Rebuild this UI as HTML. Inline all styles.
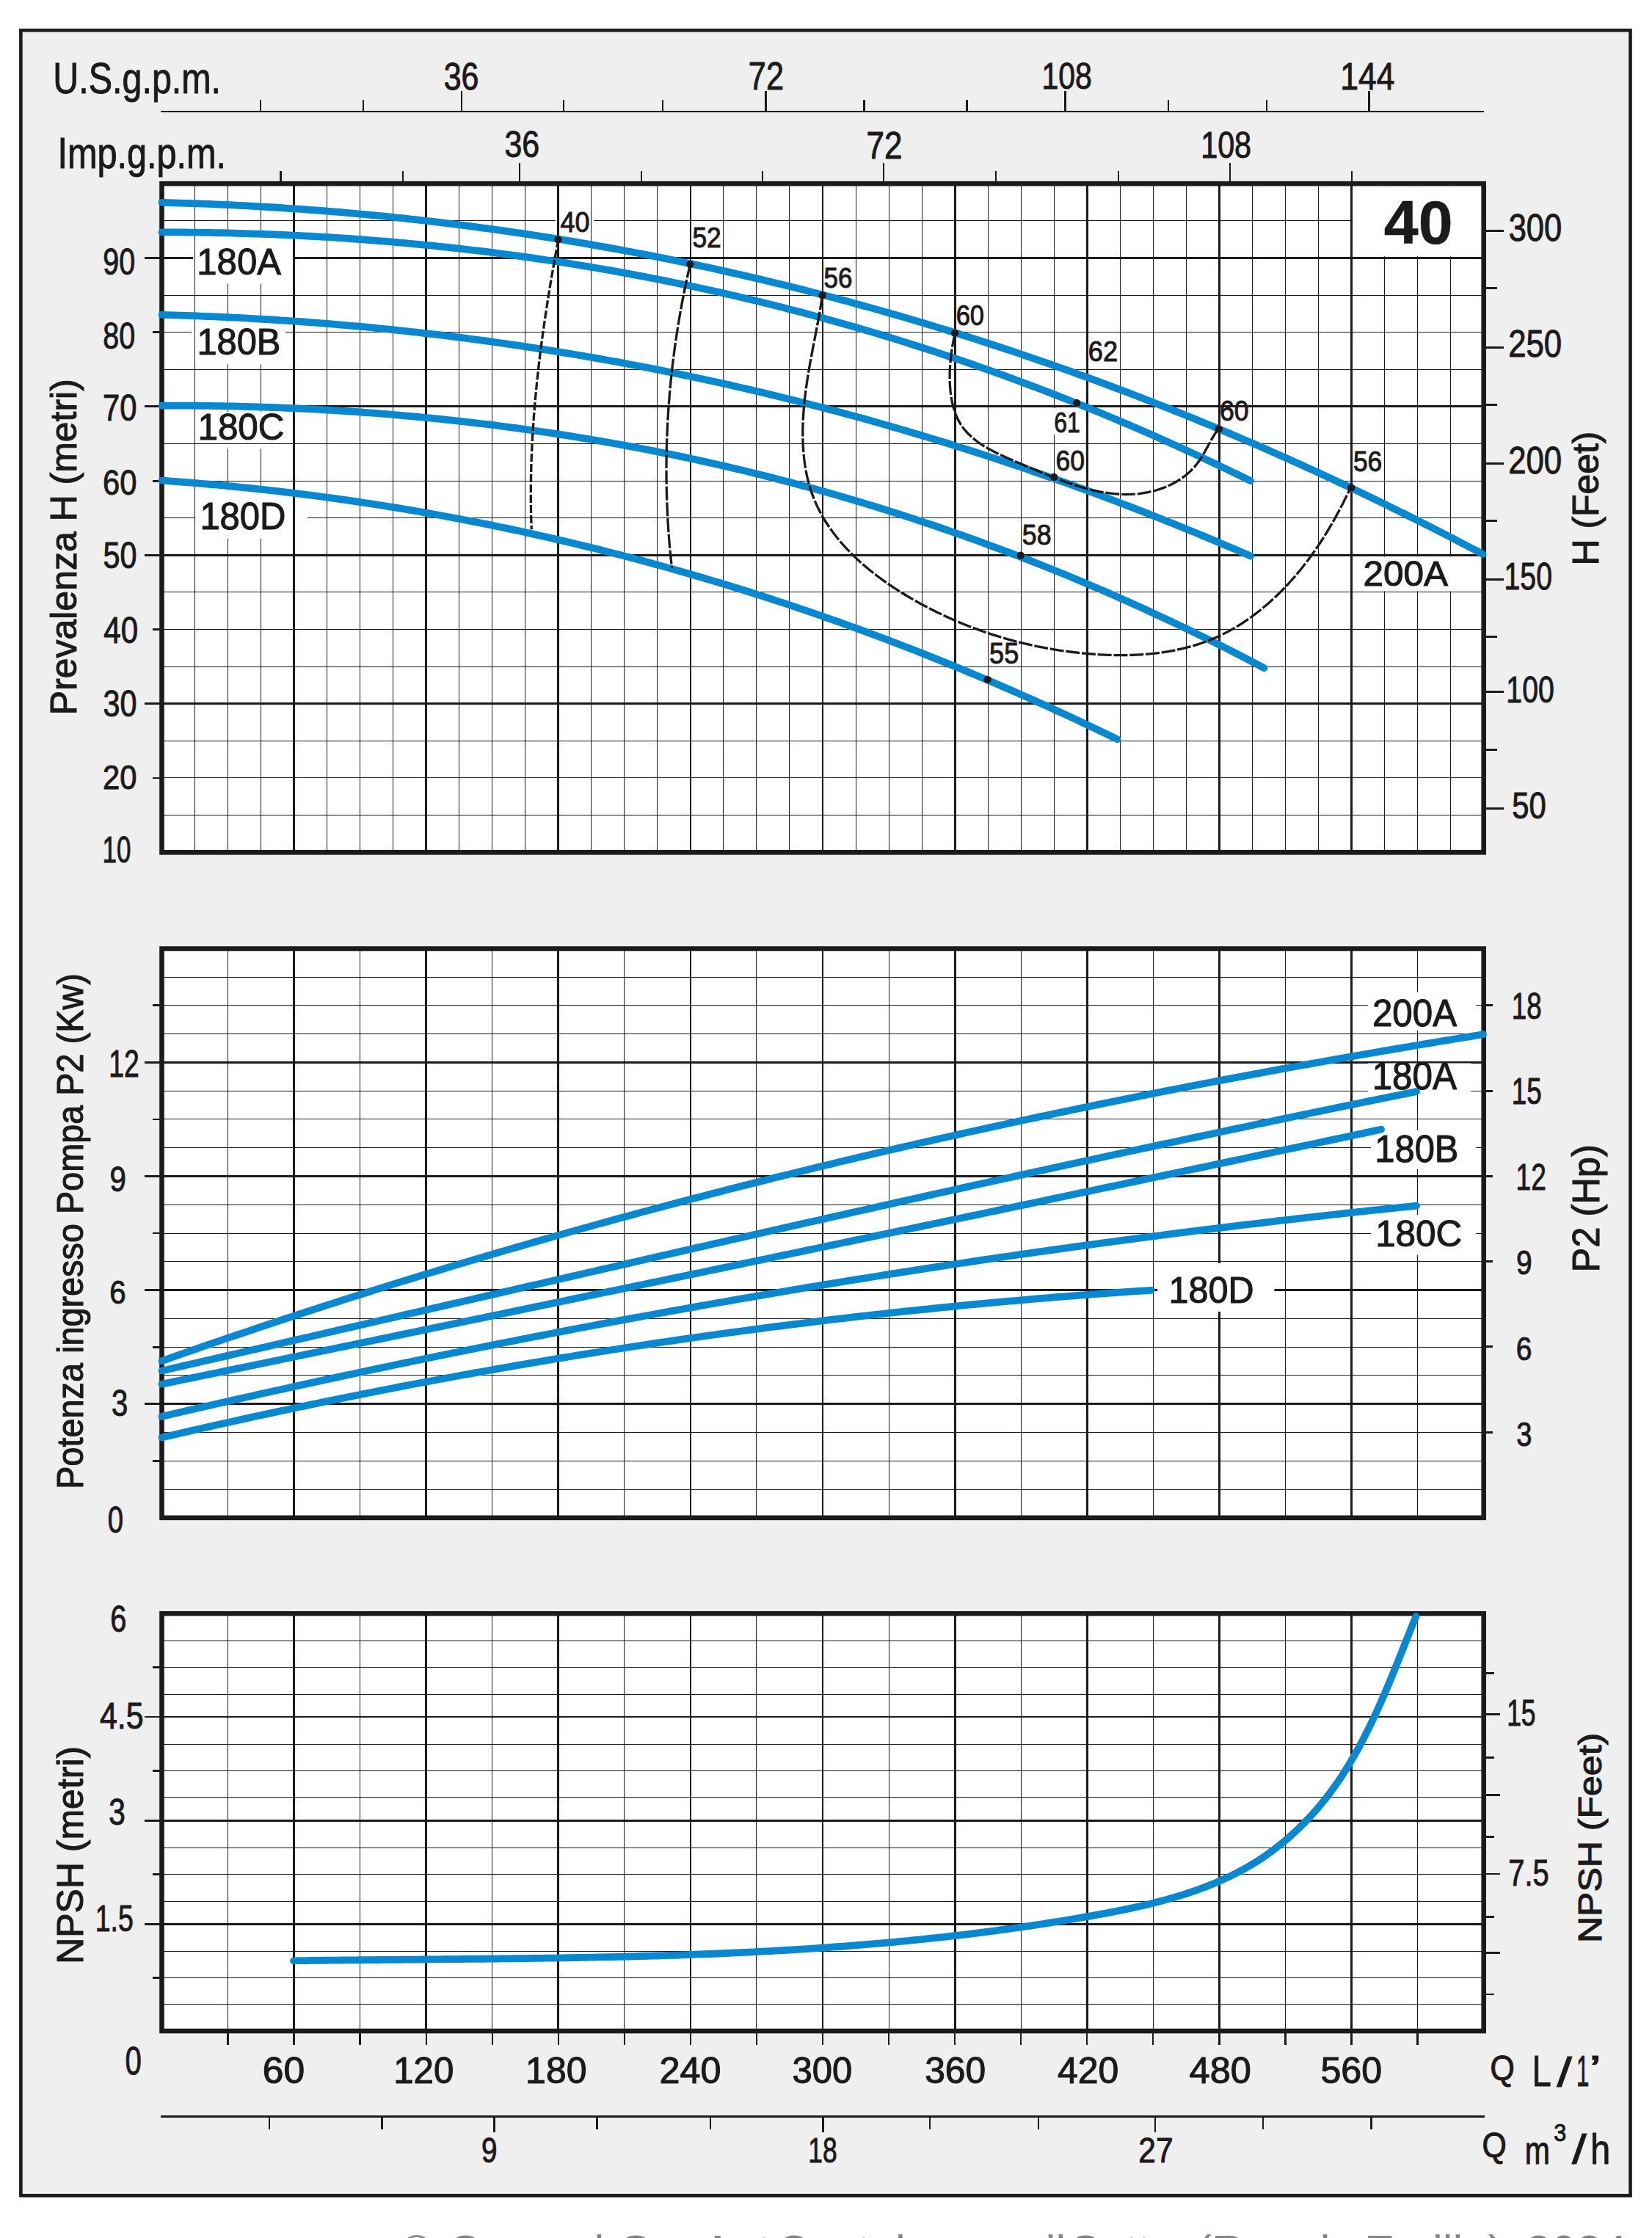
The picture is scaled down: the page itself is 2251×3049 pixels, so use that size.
<!DOCTYPE html><html><head><meta charset="utf-8"><style>html,body{margin:0;padding:0;background:#fff;width:2251px;height:3049px;}svg{display:block;}text{font-family:"Liberation Sans",sans-serif;}</style></head><body><svg width="2251" height="3049" viewBox="0 0 2251 3049" font-family="Liberation Sans, sans-serif">
<rect width="2251" height="3049" fill="#fff"/>
<rect x="28.4" y="41.3" width="2193.1" height="2949.9" fill="#efeff0" stroke="#1c1a1b" stroke-width="4.6"/>
<rect x="220.5" y="250.2" width="1801.2" height="911.1" fill="#fff"/>
<rect x="220.5" y="1292.5" width="1801.2" height="775.3" fill="#fff"/>
<rect x="220.5" y="2198.3" width="1801.2" height="568.7" fill="#fff"/>
<line x1="265.53" y1="250.2" x2="265.53" y2="1161.3" stroke="#1c1a1b" stroke-width="1.0" shape-rendering="crispEdges"/>
<line x1="310.55" y1="250.2" x2="310.55" y2="1161.3" stroke="#1c1a1b" stroke-width="1.0" shape-rendering="crispEdges"/>
<line x1="355.58" y1="250.2" x2="355.58" y2="1161.3" stroke="#1c1a1b" stroke-width="1.0" shape-rendering="crispEdges"/>
<line x1="400.6" y1="250.2" x2="400.6" y2="1161.3" stroke="#1c1a1b" stroke-width="2.8" shape-rendering="crispEdges"/>
<line x1="445.63" y1="250.2" x2="445.63" y2="1161.3" stroke="#1c1a1b" stroke-width="1.0" shape-rendering="crispEdges"/>
<line x1="490.65" y1="250.2" x2="490.65" y2="1161.3" stroke="#1c1a1b" stroke-width="1.0" shape-rendering="crispEdges"/>
<line x1="535.68" y1="250.2" x2="535.68" y2="1161.3" stroke="#1c1a1b" stroke-width="1.0" shape-rendering="crispEdges"/>
<line x1="580.7" y1="250.2" x2="580.7" y2="1161.3" stroke="#1c1a1b" stroke-width="2.8" shape-rendering="crispEdges"/>
<line x1="625.73" y1="250.2" x2="625.73" y2="1161.3" stroke="#1c1a1b" stroke-width="1.0" shape-rendering="crispEdges"/>
<line x1="670.75" y1="250.2" x2="670.75" y2="1161.3" stroke="#1c1a1b" stroke-width="1.0" shape-rendering="crispEdges"/>
<line x1="715.78" y1="250.2" x2="715.78" y2="1161.3" stroke="#1c1a1b" stroke-width="1.0" shape-rendering="crispEdges"/>
<line x1="760.81" y1="250.2" x2="760.81" y2="1161.3" stroke="#1c1a1b" stroke-width="2.8" shape-rendering="crispEdges"/>
<line x1="805.83" y1="250.2" x2="805.83" y2="1161.3" stroke="#1c1a1b" stroke-width="1.0" shape-rendering="crispEdges"/>
<line x1="850.86" y1="250.2" x2="850.86" y2="1161.3" stroke="#1c1a1b" stroke-width="1.0" shape-rendering="crispEdges"/>
<line x1="895.88" y1="250.2" x2="895.88" y2="1161.3" stroke="#1c1a1b" stroke-width="1.0" shape-rendering="crispEdges"/>
<line x1="940.91" y1="250.2" x2="940.91" y2="1161.3" stroke="#1c1a1b" stroke-width="2.8" shape-rendering="crispEdges"/>
<line x1="985.93" y1="250.2" x2="985.93" y2="1161.3" stroke="#1c1a1b" stroke-width="1.0" shape-rendering="crispEdges"/>
<line x1="1030.96" y1="250.2" x2="1030.96" y2="1161.3" stroke="#1c1a1b" stroke-width="1.0" shape-rendering="crispEdges"/>
<line x1="1075.98" y1="250.2" x2="1075.98" y2="1161.3" stroke="#1c1a1b" stroke-width="1.0" shape-rendering="crispEdges"/>
<line x1="1121.01" y1="250.2" x2="1121.01" y2="1161.3" stroke="#1c1a1b" stroke-width="2.8" shape-rendering="crispEdges"/>
<line x1="1166.04" y1="250.2" x2="1166.04" y2="1161.3" stroke="#1c1a1b" stroke-width="1.0" shape-rendering="crispEdges"/>
<line x1="1211.06" y1="250.2" x2="1211.06" y2="1161.3" stroke="#1c1a1b" stroke-width="1.0" shape-rendering="crispEdges"/>
<line x1="1256.09" y1="250.2" x2="1256.09" y2="1161.3" stroke="#1c1a1b" stroke-width="1.0" shape-rendering="crispEdges"/>
<line x1="1301.11" y1="250.2" x2="1301.11" y2="1161.3" stroke="#1c1a1b" stroke-width="2.8" shape-rendering="crispEdges"/>
<line x1="1346.14" y1="250.2" x2="1346.14" y2="1161.3" stroke="#1c1a1b" stroke-width="1.0" shape-rendering="crispEdges"/>
<line x1="1391.16" y1="250.2" x2="1391.16" y2="1161.3" stroke="#1c1a1b" stroke-width="1.0" shape-rendering="crispEdges"/>
<line x1="1436.19" y1="250.2" x2="1436.19" y2="1161.3" stroke="#1c1a1b" stroke-width="1.0" shape-rendering="crispEdges"/>
<line x1="1481.21" y1="250.2" x2="1481.21" y2="1161.3" stroke="#1c1a1b" stroke-width="2.8" shape-rendering="crispEdges"/>
<line x1="1526.24" y1="250.2" x2="1526.24" y2="1161.3" stroke="#1c1a1b" stroke-width="1.0" shape-rendering="crispEdges"/>
<line x1="1571.27" y1="250.2" x2="1571.27" y2="1161.3" stroke="#1c1a1b" stroke-width="1.0" shape-rendering="crispEdges"/>
<line x1="1616.29" y1="250.2" x2="1616.29" y2="1161.3" stroke="#1c1a1b" stroke-width="1.0" shape-rendering="crispEdges"/>
<line x1="1661.32" y1="250.2" x2="1661.32" y2="1161.3" stroke="#1c1a1b" stroke-width="2.8" shape-rendering="crispEdges"/>
<line x1="1706.34" y1="250.2" x2="1706.34" y2="1161.3" stroke="#1c1a1b" stroke-width="1.0" shape-rendering="crispEdges"/>
<line x1="1751.37" y1="250.2" x2="1751.37" y2="1161.3" stroke="#1c1a1b" stroke-width="1.0" shape-rendering="crispEdges"/>
<line x1="1796.39" y1="250.2" x2="1796.39" y2="1161.3" stroke="#1c1a1b" stroke-width="1.0" shape-rendering="crispEdges"/>
<line x1="1841.42" y1="250.2" x2="1841.42" y2="1161.3" stroke="#1c1a1b" stroke-width="2.8" shape-rendering="crispEdges"/>
<line x1="1886.44" y1="250.2" x2="1886.44" y2="1161.3" stroke="#1c1a1b" stroke-width="1.0" shape-rendering="crispEdges"/>
<line x1="1931.47" y1="250.2" x2="1931.47" y2="1161.3" stroke="#1c1a1b" stroke-width="1.0" shape-rendering="crispEdges"/>
<line x1="1976.49" y1="250.2" x2="1976.49" y2="1161.3" stroke="#1c1a1b" stroke-width="1.0" shape-rendering="crispEdges"/>
<line x1="220.5" y1="1110.59" x2="2021.7" y2="1110.59" stroke="#1c1a1b" stroke-width="1.0" shape-rendering="crispEdges"/>
<line x1="220.5" y1="1059.98" x2="2021.7" y2="1059.98" stroke="#1c1a1b" stroke-width="1.0" shape-rendering="crispEdges"/>
<line x1="220.5" y1="1009.37" x2="2021.7" y2="1009.37" stroke="#1c1a1b" stroke-width="1.0" shape-rendering="crispEdges"/>
<line x1="220.5" y1="958.76" x2="2021.7" y2="958.76" stroke="#1c1a1b" stroke-width="2.8" shape-rendering="crispEdges"/>
<line x1="220.5" y1="908.15" x2="2021.7" y2="908.15" stroke="#1c1a1b" stroke-width="1.0" shape-rendering="crispEdges"/>
<line x1="220.5" y1="857.54" x2="2021.7" y2="857.54" stroke="#1c1a1b" stroke-width="1.0" shape-rendering="crispEdges"/>
<line x1="220.5" y1="806.93" x2="2021.7" y2="806.93" stroke="#1c1a1b" stroke-width="1.0" shape-rendering="crispEdges"/>
<line x1="220.5" y1="756.32" x2="2021.7" y2="756.32" stroke="#1c1a1b" stroke-width="2.8" shape-rendering="crispEdges"/>
<line x1="220.5" y1="705.71" x2="2021.7" y2="705.71" stroke="#1c1a1b" stroke-width="1.0" shape-rendering="crispEdges"/>
<line x1="220.5" y1="655.1" x2="2021.7" y2="655.1" stroke="#1c1a1b" stroke-width="1.0" shape-rendering="crispEdges"/>
<line x1="220.5" y1="604.49" x2="2021.7" y2="604.49" stroke="#1c1a1b" stroke-width="1.0" shape-rendering="crispEdges"/>
<line x1="220.5" y1="553.88" x2="2021.7" y2="553.88" stroke="#1c1a1b" stroke-width="2.8" shape-rendering="crispEdges"/>
<line x1="220.5" y1="503.27" x2="2021.7" y2="503.27" stroke="#1c1a1b" stroke-width="1.0" shape-rendering="crispEdges"/>
<line x1="220.5" y1="452.66" x2="2021.7" y2="452.66" stroke="#1c1a1b" stroke-width="1.0" shape-rendering="crispEdges"/>
<line x1="220.5" y1="402.05" x2="2021.7" y2="402.05" stroke="#1c1a1b" stroke-width="1.0" shape-rendering="crispEdges"/>
<line x1="220.5" y1="351.44" x2="2021.7" y2="351.44" stroke="#1c1a1b" stroke-width="2.8" shape-rendering="crispEdges"/>
<line x1="220.5" y1="300.83" x2="2021.7" y2="300.83" stroke="#1c1a1b" stroke-width="1.0" shape-rendering="crispEdges"/>
<line x1="310.55" y1="1292.5" x2="310.55" y2="2067.8" stroke="#1c1a1b" stroke-width="1.0" shape-rendering="crispEdges"/>
<line x1="400.6" y1="1292.5" x2="400.6" y2="2067.8" stroke="#1c1a1b" stroke-width="2.8" shape-rendering="crispEdges"/>
<line x1="490.65" y1="1292.5" x2="490.65" y2="2067.8" stroke="#1c1a1b" stroke-width="1.0" shape-rendering="crispEdges"/>
<line x1="580.7" y1="1292.5" x2="580.7" y2="2067.8" stroke="#1c1a1b" stroke-width="2.8" shape-rendering="crispEdges"/>
<line x1="670.75" y1="1292.5" x2="670.75" y2="2067.8" stroke="#1c1a1b" stroke-width="1.0" shape-rendering="crispEdges"/>
<line x1="760.81" y1="1292.5" x2="760.81" y2="2067.8" stroke="#1c1a1b" stroke-width="2.8" shape-rendering="crispEdges"/>
<line x1="850.86" y1="1292.5" x2="850.86" y2="2067.8" stroke="#1c1a1b" stroke-width="1.0" shape-rendering="crispEdges"/>
<line x1="940.91" y1="1292.5" x2="940.91" y2="2067.8" stroke="#1c1a1b" stroke-width="2.8" shape-rendering="crispEdges"/>
<line x1="1030.96" y1="1292.5" x2="1030.96" y2="2067.8" stroke="#1c1a1b" stroke-width="1.0" shape-rendering="crispEdges"/>
<line x1="1121.01" y1="1292.5" x2="1121.01" y2="2067.8" stroke="#1c1a1b" stroke-width="2.8" shape-rendering="crispEdges"/>
<line x1="1211.06" y1="1292.5" x2="1211.06" y2="2067.8" stroke="#1c1a1b" stroke-width="1.0" shape-rendering="crispEdges"/>
<line x1="1301.11" y1="1292.5" x2="1301.11" y2="2067.8" stroke="#1c1a1b" stroke-width="2.8" shape-rendering="crispEdges"/>
<line x1="1391.16" y1="1292.5" x2="1391.16" y2="2067.8" stroke="#1c1a1b" stroke-width="1.0" shape-rendering="crispEdges"/>
<line x1="1481.21" y1="1292.5" x2="1481.21" y2="2067.8" stroke="#1c1a1b" stroke-width="2.8" shape-rendering="crispEdges"/>
<line x1="1571.27" y1="1292.5" x2="1571.27" y2="2067.8" stroke="#1c1a1b" stroke-width="1.0" shape-rendering="crispEdges"/>
<line x1="1661.32" y1="1292.5" x2="1661.32" y2="2067.8" stroke="#1c1a1b" stroke-width="2.8" shape-rendering="crispEdges"/>
<line x1="1751.37" y1="1292.5" x2="1751.37" y2="2067.8" stroke="#1c1a1b" stroke-width="1.0" shape-rendering="crispEdges"/>
<line x1="1841.42" y1="1292.5" x2="1841.42" y2="2067.8" stroke="#1c1a1b" stroke-width="2.8" shape-rendering="crispEdges"/>
<line x1="1931.47" y1="1292.5" x2="1931.47" y2="2067.8" stroke="#1c1a1b" stroke-width="1.0" shape-rendering="crispEdges"/>
<line x1="220.5" y1="2029.03" x2="2021.7" y2="2029.03" stroke="#1c1a1b" stroke-width="1.0" shape-rendering="crispEdges"/>
<line x1="220.5" y1="1990.25" x2="2021.7" y2="1990.25" stroke="#1c1a1b" stroke-width="1.0" shape-rendering="crispEdges"/>
<line x1="220.5" y1="1951.48" x2="2021.7" y2="1951.48" stroke="#1c1a1b" stroke-width="1.0" shape-rendering="crispEdges"/>
<line x1="220.5" y1="1912.7" x2="2021.7" y2="1912.7" stroke="#1c1a1b" stroke-width="2.8" shape-rendering="crispEdges"/>
<line x1="220.5" y1="1873.93" x2="2021.7" y2="1873.93" stroke="#1c1a1b" stroke-width="1.0" shape-rendering="crispEdges"/>
<line x1="220.5" y1="1835.15" x2="2021.7" y2="1835.15" stroke="#1c1a1b" stroke-width="1.0" shape-rendering="crispEdges"/>
<line x1="220.5" y1="1796.38" x2="2021.7" y2="1796.38" stroke="#1c1a1b" stroke-width="1.0" shape-rendering="crispEdges"/>
<line x1="220.5" y1="1757.6" x2="2021.7" y2="1757.6" stroke="#1c1a1b" stroke-width="2.8" shape-rendering="crispEdges"/>
<line x1="220.5" y1="1718.83" x2="2021.7" y2="1718.83" stroke="#1c1a1b" stroke-width="1.0" shape-rendering="crispEdges"/>
<line x1="220.5" y1="1680.05" x2="2021.7" y2="1680.05" stroke="#1c1a1b" stroke-width="1.0" shape-rendering="crispEdges"/>
<line x1="220.5" y1="1641.28" x2="2021.7" y2="1641.28" stroke="#1c1a1b" stroke-width="1.0" shape-rendering="crispEdges"/>
<line x1="220.5" y1="1602.5" x2="2021.7" y2="1602.5" stroke="#1c1a1b" stroke-width="2.8" shape-rendering="crispEdges"/>
<line x1="220.5" y1="1563.73" x2="2021.7" y2="1563.73" stroke="#1c1a1b" stroke-width="1.0" shape-rendering="crispEdges"/>
<line x1="220.5" y1="1524.95" x2="2021.7" y2="1524.95" stroke="#1c1a1b" stroke-width="1.0" shape-rendering="crispEdges"/>
<line x1="220.5" y1="1486.18" x2="2021.7" y2="1486.18" stroke="#1c1a1b" stroke-width="1.0" shape-rendering="crispEdges"/>
<line x1="220.5" y1="1447.4" x2="2021.7" y2="1447.4" stroke="#1c1a1b" stroke-width="2.8" shape-rendering="crispEdges"/>
<line x1="220.5" y1="1408.62" x2="2021.7" y2="1408.62" stroke="#1c1a1b" stroke-width="1.0" shape-rendering="crispEdges"/>
<line x1="220.5" y1="1369.85" x2="2021.7" y2="1369.85" stroke="#1c1a1b" stroke-width="1.0" shape-rendering="crispEdges"/>
<line x1="220.5" y1="1331.08" x2="2021.7" y2="1331.08" stroke="#1c1a1b" stroke-width="1.0" shape-rendering="crispEdges"/>
<line x1="310.55" y1="2198.3" x2="310.55" y2="2767" stroke="#1c1a1b" stroke-width="1.0" shape-rendering="crispEdges"/>
<line x1="400.6" y1="2198.3" x2="400.6" y2="2767" stroke="#1c1a1b" stroke-width="2.8" shape-rendering="crispEdges"/>
<line x1="490.65" y1="2198.3" x2="490.65" y2="2767" stroke="#1c1a1b" stroke-width="1.0" shape-rendering="crispEdges"/>
<line x1="580.7" y1="2198.3" x2="580.7" y2="2767" stroke="#1c1a1b" stroke-width="2.8" shape-rendering="crispEdges"/>
<line x1="670.75" y1="2198.3" x2="670.75" y2="2767" stroke="#1c1a1b" stroke-width="1.0" shape-rendering="crispEdges"/>
<line x1="760.81" y1="2198.3" x2="760.81" y2="2767" stroke="#1c1a1b" stroke-width="2.8" shape-rendering="crispEdges"/>
<line x1="850.86" y1="2198.3" x2="850.86" y2="2767" stroke="#1c1a1b" stroke-width="1.0" shape-rendering="crispEdges"/>
<line x1="940.91" y1="2198.3" x2="940.91" y2="2767" stroke="#1c1a1b" stroke-width="2.8" shape-rendering="crispEdges"/>
<line x1="1030.96" y1="2198.3" x2="1030.96" y2="2767" stroke="#1c1a1b" stroke-width="1.0" shape-rendering="crispEdges"/>
<line x1="1121.01" y1="2198.3" x2="1121.01" y2="2767" stroke="#1c1a1b" stroke-width="2.8" shape-rendering="crispEdges"/>
<line x1="1211.06" y1="2198.3" x2="1211.06" y2="2767" stroke="#1c1a1b" stroke-width="1.0" shape-rendering="crispEdges"/>
<line x1="1301.11" y1="2198.3" x2="1301.11" y2="2767" stroke="#1c1a1b" stroke-width="2.8" shape-rendering="crispEdges"/>
<line x1="1391.16" y1="2198.3" x2="1391.16" y2="2767" stroke="#1c1a1b" stroke-width="1.0" shape-rendering="crispEdges"/>
<line x1="1481.21" y1="2198.3" x2="1481.21" y2="2767" stroke="#1c1a1b" stroke-width="2.8" shape-rendering="crispEdges"/>
<line x1="1571.27" y1="2198.3" x2="1571.27" y2="2767" stroke="#1c1a1b" stroke-width="1.0" shape-rendering="crispEdges"/>
<line x1="1661.32" y1="2198.3" x2="1661.32" y2="2767" stroke="#1c1a1b" stroke-width="2.8" shape-rendering="crispEdges"/>
<line x1="1751.37" y1="2198.3" x2="1751.37" y2="2767" stroke="#1c1a1b" stroke-width="1.0" shape-rendering="crispEdges"/>
<line x1="1841.42" y1="2198.3" x2="1841.42" y2="2767" stroke="#1c1a1b" stroke-width="2.8" shape-rendering="crispEdges"/>
<line x1="1931.47" y1="2198.3" x2="1931.47" y2="2767" stroke="#1c1a1b" stroke-width="1.0" shape-rendering="crispEdges"/>
<line x1="220.5" y1="2235.4" x2="2021.7" y2="2235.4" stroke="#1c1a1b" stroke-width="1.0" shape-rendering="crispEdges"/>
<line x1="220.5" y1="2271.2" x2="2021.7" y2="2271.2" stroke="#1c1a1b" stroke-width="1.0" shape-rendering="crispEdges"/>
<line x1="220.5" y1="2308.6" x2="2021.7" y2="2308.6" stroke="#1c1a1b" stroke-width="1.0" shape-rendering="crispEdges"/>
<line x1="220.5" y1="2376.7" x2="2021.7" y2="2376.7" stroke="#1c1a1b" stroke-width="1.0" shape-rendering="crispEdges"/>
<line x1="220.5" y1="2412.6" x2="2021.7" y2="2412.6" stroke="#1c1a1b" stroke-width="1.0" shape-rendering="crispEdges"/>
<line x1="220.5" y1="2448.9" x2="2021.7" y2="2448.9" stroke="#1c1a1b" stroke-width="1.0" shape-rendering="crispEdges"/>
<line x1="220.5" y1="2517.5" x2="2021.7" y2="2517.5" stroke="#1c1a1b" stroke-width="1.0" shape-rendering="crispEdges"/>
<line x1="220.5" y1="2553.2" x2="2021.7" y2="2553.2" stroke="#1c1a1b" stroke-width="1.0" shape-rendering="crispEdges"/>
<line x1="220.5" y1="2590.6" x2="2021.7" y2="2590.6" stroke="#1c1a1b" stroke-width="1.0" shape-rendering="crispEdges"/>
<line x1="220.5" y1="2658.6" x2="2021.7" y2="2658.6" stroke="#1c1a1b" stroke-width="1.0" shape-rendering="crispEdges"/>
<line x1="220.5" y1="2694.2" x2="2021.7" y2="2694.2" stroke="#1c1a1b" stroke-width="1.0" shape-rendering="crispEdges"/>
<line x1="220.5" y1="2730.8" x2="2021.7" y2="2730.8" stroke="#1c1a1b" stroke-width="1.0" shape-rendering="crispEdges"/>
<line x1="220.5" y1="2338.9" x2="2021.7" y2="2338.9" stroke="#1c1a1b" stroke-width="2.8" shape-rendering="crispEdges"/>
<line x1="220.5" y1="2480.2" x2="2021.7" y2="2480.2" stroke="#1c1a1b" stroke-width="2.8" shape-rendering="crispEdges"/>
<line x1="220.5" y1="2621.3" x2="2021.7" y2="2621.3" stroke="#1c1a1b" stroke-width="2.8" shape-rendering="crispEdges"/>
<rect x="263" y="322" width="137" height="64.5" fill="#fff"/>
<rect x="261" y="438" width="128" height="58.3" fill="#fff"/>
<rect x="266" y="561" width="133" height="50.4" fill="#fff"/>
<rect x="266" y="668" width="152.7" height="65.7" fill="#fff"/>
<rect x="1843.2" y="758.5" width="175.4" height="46.9" fill="#fff"/>
<rect x="1843.2" y="253.2" width="175.4" height="96.2" fill="#fff"/>
<rect x="757" y="298.2" width="52" height="5" fill="#fff"/>
<rect x="1433" y="556" width="41" height="36" fill="#fff"/>
<rect x="1863.7" y="1352" width="147.7" height="52" fill="#fff"/>
<rect x="1863.7" y="1448.5" width="140.7" height="38.5" fill="#fff"/>
<rect x="1868.2" y="1540" width="143.2" height="53" fill="#fff"/>
<rect x="1868.2" y="1655" width="143.2" height="54.6" fill="#fff"/>
<rect x="1577.3" y="1721" width="159.1" height="65.9" fill="#fff"/>
<line x1="265.53" y1="250.2" x2="265.53" y2="1161.3" stroke="#1c1a1b" stroke-width="1.0" shape-rendering="crispEdges"/>
<line x1="400.6" y1="250.2" x2="400.6" y2="1161.3" stroke="#1c1a1b" stroke-width="2.8" shape-rendering="crispEdges"/>
<line x1="220.5" y1="604.49" x2="400.6" y2="604.49" stroke="#1c1a1b" stroke-width="1.0" shape-rendering="crispEdges"/>
<line x1="760.81" y1="295" x2="760.81" y2="306" stroke="#1c1a1b" stroke-width="2.8" shape-rendering="crispEdges"/>
<line x1="805.83" y1="295" x2="805.83" y2="306" stroke="#1c1a1b" stroke-width="1.0" shape-rendering="crispEdges"/>
<rect x="220.5" y="250.2" width="1801.2" height="911.1" fill="none" stroke="#1c1a1b" stroke-width="6.6"/>
<rect x="220.5" y="1292.5" width="1801.2" height="775.3" fill="none" stroke="#1c1a1b" stroke-width="6.6"/>
<rect x="220.5" y="2198.3" width="1801.2" height="568.7" fill="none" stroke="#1c1a1b" stroke-width="6.6"/>
<line x1="196.5" y1="958.76" x2="220.5" y2="958.76" stroke="#1c1a1b" stroke-width="2.8" shape-rendering="crispEdges"/>
<line x1="196.5" y1="756.32" x2="220.5" y2="756.32" stroke="#1c1a1b" stroke-width="2.8" shape-rendering="crispEdges"/>
<line x1="196.5" y1="553.88" x2="220.5" y2="553.88" stroke="#1c1a1b" stroke-width="2.8" shape-rendering="crispEdges"/>
<line x1="196.5" y1="351.44" x2="220.5" y2="351.44" stroke="#1c1a1b" stroke-width="2.8" shape-rendering="crispEdges"/>
<line x1="208" y1="1059.98" x2="220.5" y2="1059.98" stroke="#1c1a1b" stroke-width="2.8" shape-rendering="crispEdges"/>
<line x1="208" y1="857.54" x2="220.5" y2="857.54" stroke="#1c1a1b" stroke-width="2.8" shape-rendering="crispEdges"/>
<line x1="208" y1="655.1" x2="220.5" y2="655.1" stroke="#1c1a1b" stroke-width="2.8" shape-rendering="crispEdges"/>
<line x1="208" y1="452.66" x2="220.5" y2="452.66" stroke="#1c1a1b" stroke-width="2.8" shape-rendering="crispEdges"/>
<line x1="2021.7" y1="314.4" x2="2048.5" y2="314.4" stroke="#1c1a1b" stroke-width="2.8" shape-rendering="crispEdges"/>
<line x1="2021.7" y1="473.5" x2="2048.5" y2="473.5" stroke="#1c1a1b" stroke-width="2.8" shape-rendering="crispEdges"/>
<line x1="2021.7" y1="631.3" x2="2048.5" y2="631.3" stroke="#1c1a1b" stroke-width="2.8" shape-rendering="crispEdges"/>
<line x1="2021.7" y1="789.4" x2="2048.5" y2="789.4" stroke="#1c1a1b" stroke-width="2.8" shape-rendering="crispEdges"/>
<line x1="2021.7" y1="942.7" x2="2048.5" y2="942.7" stroke="#1c1a1b" stroke-width="2.8" shape-rendering="crispEdges"/>
<line x1="2021.7" y1="1101.1" x2="2048.5" y2="1101.1" stroke="#1c1a1b" stroke-width="2.8" shape-rendering="crispEdges"/>
<line x1="2021.7" y1="392.4" x2="2039.5" y2="392.4" stroke="#1c1a1b" stroke-width="2.8" shape-rendering="crispEdges"/>
<line x1="2021.7" y1="551.2" x2="2039.5" y2="551.2" stroke="#1c1a1b" stroke-width="2.8" shape-rendering="crispEdges"/>
<line x1="2021.7" y1="709.3" x2="2039.5" y2="709.3" stroke="#1c1a1b" stroke-width="2.8" shape-rendering="crispEdges"/>
<line x1="2021.7" y1="867.5" x2="2039.5" y2="867.5" stroke="#1c1a1b" stroke-width="2.8" shape-rendering="crispEdges"/>
<line x1="2021.7" y1="1021.4" x2="2039.5" y2="1021.4" stroke="#1c1a1b" stroke-width="2.8" shape-rendering="crispEdges"/>
<line x1="219" y1="151.8" x2="2022.3" y2="151.8" stroke="#1c1a1b" stroke-width="2.4" shape-rendering="crispEdges"/>
<line x1="354.7" y1="136.3" x2="354.7" y2="151.8" stroke="#1c1a1b" stroke-width="2.4" shape-rendering="crispEdges"/>
<line x1="494.7" y1="136.3" x2="494.7" y2="151.8" stroke="#1c1a1b" stroke-width="2.4" shape-rendering="crispEdges"/>
<line x1="768.2" y1="136.3" x2="768.2" y2="151.8" stroke="#1c1a1b" stroke-width="2.4" shape-rendering="crispEdges"/>
<line x1="902.8" y1="136.3" x2="902.8" y2="151.8" stroke="#1c1a1b" stroke-width="2.4" shape-rendering="crispEdges"/>
<line x1="1177.6" y1="136.3" x2="1177.6" y2="151.8" stroke="#1c1a1b" stroke-width="2.4" shape-rendering="crispEdges"/>
<line x1="1317.4" y1="136.3" x2="1317.4" y2="151.8" stroke="#1c1a1b" stroke-width="2.4" shape-rendering="crispEdges"/>
<line x1="1591.7" y1="136.3" x2="1591.7" y2="151.8" stroke="#1c1a1b" stroke-width="2.4" shape-rendering="crispEdges"/>
<line x1="1725.7" y1="136.3" x2="1725.7" y2="151.8" stroke="#1c1a1b" stroke-width="2.4" shape-rendering="crispEdges"/>
<line x1="628.7" y1="124.3" x2="628.7" y2="151.8" stroke="#1c1a1b" stroke-width="2.4" shape-rendering="crispEdges"/>
<line x1="1043.3" y1="124.3" x2="1043.3" y2="151.8" stroke="#1c1a1b" stroke-width="2.4" shape-rendering="crispEdges"/>
<line x1="1451.4" y1="124.3" x2="1451.4" y2="151.8" stroke="#1c1a1b" stroke-width="2.4" shape-rendering="crispEdges"/>
<line x1="1865.4" y1="124.3" x2="1865.4" y2="151.8" stroke="#1c1a1b" stroke-width="2.4" shape-rendering="crispEdges"/>
<line x1="382.5" y1="233.2" x2="382.5" y2="250.2" stroke="#1c1a1b" stroke-width="2.4" shape-rendering="crispEdges"/>
<line x1="548.7" y1="233.2" x2="548.7" y2="250.2" stroke="#1c1a1b" stroke-width="2.4" shape-rendering="crispEdges"/>
<line x1="873.9" y1="233.2" x2="873.9" y2="250.2" stroke="#1c1a1b" stroke-width="2.4" shape-rendering="crispEdges"/>
<line x1="1039" y1="233.2" x2="1039" y2="250.2" stroke="#1c1a1b" stroke-width="2.4" shape-rendering="crispEdges"/>
<line x1="1357.1" y1="233.2" x2="1357.1" y2="250.2" stroke="#1c1a1b" stroke-width="2.4" shape-rendering="crispEdges"/>
<line x1="1523.8" y1="233.2" x2="1523.8" y2="250.2" stroke="#1c1a1b" stroke-width="2.4" shape-rendering="crispEdges"/>
<line x1="1841.8" y1="233.2" x2="1841.8" y2="250.2" stroke="#1c1a1b" stroke-width="2.4" shape-rendering="crispEdges"/>
<line x1="707.7" y1="221.8" x2="707.7" y2="250.2" stroke="#1c1a1b" stroke-width="2.4" shape-rendering="crispEdges"/>
<line x1="1204.1" y1="221.8" x2="1204.1" y2="250.2" stroke="#1c1a1b" stroke-width="2.4" shape-rendering="crispEdges"/>
<line x1="1676.2" y1="221.8" x2="1676.2" y2="250.2" stroke="#1c1a1b" stroke-width="2.4" shape-rendering="crispEdges"/>
<line x1="197.3" y1="1912.7" x2="220.5" y2="1912.7" stroke="#1c1a1b" stroke-width="2.8" shape-rendering="crispEdges"/>
<line x1="197.3" y1="1757.6" x2="220.5" y2="1757.6" stroke="#1c1a1b" stroke-width="2.8" shape-rendering="crispEdges"/>
<line x1="197.3" y1="1602.5" x2="220.5" y2="1602.5" stroke="#1c1a1b" stroke-width="2.8" shape-rendering="crispEdges"/>
<line x1="197.3" y1="1447.4" x2="220.5" y2="1447.4" stroke="#1c1a1b" stroke-width="2.8" shape-rendering="crispEdges"/>
<line x1="208.2" y1="1990.25" x2="220.5" y2="1990.25" stroke="#1c1a1b" stroke-width="2.8" shape-rendering="crispEdges"/>
<line x1="208.2" y1="1835.15" x2="220.5" y2="1835.15" stroke="#1c1a1b" stroke-width="2.8" shape-rendering="crispEdges"/>
<line x1="208.2" y1="1680.05" x2="220.5" y2="1680.05" stroke="#1c1a1b" stroke-width="2.8" shape-rendering="crispEdges"/>
<line x1="208.2" y1="1524.95" x2="220.5" y2="1524.95" stroke="#1c1a1b" stroke-width="2.8" shape-rendering="crispEdges"/>
<line x1="208.2" y1="1369.85" x2="220.5" y2="1369.85" stroke="#1c1a1b" stroke-width="2.8" shape-rendering="crispEdges"/>
<line x1="2021.7" y1="1369.7" x2="2034.4" y2="1369.7" stroke="#1c1a1b" stroke-width="2.8" shape-rendering="crispEdges"/>
<line x1="2021.7" y1="1486.4" x2="2034.4" y2="1486.4" stroke="#1c1a1b" stroke-width="2.8" shape-rendering="crispEdges"/>
<line x1="2021.7" y1="1602.8" x2="2034.4" y2="1602.8" stroke="#1c1a1b" stroke-width="2.8" shape-rendering="crispEdges"/>
<line x1="2021.7" y1="1718.7" x2="2034.4" y2="1718.7" stroke="#1c1a1b" stroke-width="2.8" shape-rendering="crispEdges"/>
<line x1="2021.7" y1="1834.6" x2="2034.4" y2="1834.6" stroke="#1c1a1b" stroke-width="2.8" shape-rendering="crispEdges"/>
<line x1="2021.7" y1="1951.5" x2="2034.4" y2="1951.5" stroke="#1c1a1b" stroke-width="2.8" shape-rendering="crispEdges"/>
<line x1="197" y1="2338.9" x2="220.5" y2="2338.9" stroke="#1c1a1b" stroke-width="2.8" shape-rendering="crispEdges"/>
<line x1="197" y1="2480.2" x2="220.5" y2="2480.2" stroke="#1c1a1b" stroke-width="2.8" shape-rendering="crispEdges"/>
<line x1="197" y1="2621.3" x2="220.5" y2="2621.3" stroke="#1c1a1b" stroke-width="2.8" shape-rendering="crispEdges"/>
<line x1="208" y1="2271.2" x2="220.5" y2="2271.2" stroke="#1c1a1b" stroke-width="2.8" shape-rendering="crispEdges"/>
<line x1="208" y1="2412.6" x2="220.5" y2="2412.6" stroke="#1c1a1b" stroke-width="2.8" shape-rendering="crispEdges"/>
<line x1="208" y1="2553.2" x2="220.5" y2="2553.2" stroke="#1c1a1b" stroke-width="2.8" shape-rendering="crispEdges"/>
<line x1="208" y1="2694.2" x2="220.5" y2="2694.2" stroke="#1c1a1b" stroke-width="2.8" shape-rendering="crispEdges"/>
<line x1="2021.7" y1="2335.8" x2="2044.3" y2="2335.8" stroke="#1c1a1b" stroke-width="2.8" shape-rendering="crispEdges"/>
<line x1="2021.7" y1="2445.3" x2="2044.3" y2="2445.3" stroke="#1c1a1b" stroke-width="2.8" shape-rendering="crispEdges"/>
<line x1="2021.7" y1="2553" x2="2044.3" y2="2553" stroke="#1c1a1b" stroke-width="2.8" shape-rendering="crispEdges"/>
<line x1="2021.7" y1="2660.4" x2="2044.3" y2="2660.4" stroke="#1c1a1b" stroke-width="2.8" shape-rendering="crispEdges"/>
<line x1="2021.7" y1="2279.2" x2="2035.6" y2="2279.2" stroke="#1c1a1b" stroke-width="2.8" shape-rendering="crispEdges"/>
<line x1="2021.7" y1="2394.8" x2="2035.6" y2="2394.8" stroke="#1c1a1b" stroke-width="2.8" shape-rendering="crispEdges"/>
<line x1="2021.7" y1="2502.2" x2="2035.6" y2="2502.2" stroke="#1c1a1b" stroke-width="2.8" shape-rendering="crispEdges"/>
<line x1="2021.7" y1="2611.1" x2="2035.6" y2="2611.1" stroke="#1c1a1b" stroke-width="2.8" shape-rendering="crispEdges"/>
<line x1="2021.7" y1="2717" x2="2035.6" y2="2717" stroke="#1c1a1b" stroke-width="2.8" shape-rendering="crispEdges"/>
<line x1="310.55" y1="2767" x2="310.55" y2="2786" stroke="#1c1a1b" stroke-width="2.4" shape-rendering="crispEdges"/>
<line x1="400.6" y1="2767" x2="400.6" y2="2786" stroke="#1c1a1b" stroke-width="2.4" shape-rendering="crispEdges"/>
<line x1="490.65" y1="2767" x2="490.65" y2="2786" stroke="#1c1a1b" stroke-width="2.4" shape-rendering="crispEdges"/>
<line x1="580.7" y1="2767" x2="580.7" y2="2786" stroke="#1c1a1b" stroke-width="2.4" shape-rendering="crispEdges"/>
<line x1="670.75" y1="2767" x2="670.75" y2="2786" stroke="#1c1a1b" stroke-width="2.4" shape-rendering="crispEdges"/>
<line x1="760.81" y1="2767" x2="760.81" y2="2786" stroke="#1c1a1b" stroke-width="2.4" shape-rendering="crispEdges"/>
<line x1="850.86" y1="2767" x2="850.86" y2="2786" stroke="#1c1a1b" stroke-width="2.4" shape-rendering="crispEdges"/>
<line x1="940.91" y1="2767" x2="940.91" y2="2786" stroke="#1c1a1b" stroke-width="2.4" shape-rendering="crispEdges"/>
<line x1="1030.96" y1="2767" x2="1030.96" y2="2786" stroke="#1c1a1b" stroke-width="2.4" shape-rendering="crispEdges"/>
<line x1="1121.01" y1="2767" x2="1121.01" y2="2786" stroke="#1c1a1b" stroke-width="2.4" shape-rendering="crispEdges"/>
<line x1="1211.06" y1="2767" x2="1211.06" y2="2786" stroke="#1c1a1b" stroke-width="2.4" shape-rendering="crispEdges"/>
<line x1="1301.11" y1="2767" x2="1301.11" y2="2786" stroke="#1c1a1b" stroke-width="2.4" shape-rendering="crispEdges"/>
<line x1="1391.16" y1="2767" x2="1391.16" y2="2786" stroke="#1c1a1b" stroke-width="2.4" shape-rendering="crispEdges"/>
<line x1="1481.21" y1="2767" x2="1481.21" y2="2786" stroke="#1c1a1b" stroke-width="2.4" shape-rendering="crispEdges"/>
<line x1="1571.27" y1="2767" x2="1571.27" y2="2786" stroke="#1c1a1b" stroke-width="2.4" shape-rendering="crispEdges"/>
<line x1="1661.32" y1="2767" x2="1661.32" y2="2786" stroke="#1c1a1b" stroke-width="2.4" shape-rendering="crispEdges"/>
<line x1="1751.37" y1="2767" x2="1751.37" y2="2786" stroke="#1c1a1b" stroke-width="2.4" shape-rendering="crispEdges"/>
<line x1="1841.42" y1="2767" x2="1841.42" y2="2786" stroke="#1c1a1b" stroke-width="2.4" shape-rendering="crispEdges"/>
<line x1="1931.47" y1="2767" x2="1931.47" y2="2786" stroke="#1c1a1b" stroke-width="2.4" shape-rendering="crispEdges"/>
<line x1="219" y1="2883.3" x2="2023" y2="2883.3" stroke="#1c1a1b" stroke-width="2.4" shape-rendering="crispEdges"/>
<line x1="366.8" y1="2883.3" x2="366.8" y2="2900.7" stroke="#1c1a1b" stroke-width="2.4" shape-rendering="crispEdges"/>
<line x1="520.3" y1="2883.3" x2="520.3" y2="2900.7" stroke="#1c1a1b" stroke-width="2.4" shape-rendering="crispEdges"/>
<line x1="813.6" y1="2883.3" x2="813.6" y2="2900.7" stroke="#1c1a1b" stroke-width="2.4" shape-rendering="crispEdges"/>
<line x1="967.7" y1="2883.3" x2="967.7" y2="2900.7" stroke="#1c1a1b" stroke-width="2.4" shape-rendering="crispEdges"/>
<line x1="1267.2" y1="2883.3" x2="1267.2" y2="2900.7" stroke="#1c1a1b" stroke-width="2.4" shape-rendering="crispEdges"/>
<line x1="1414.9" y1="2883.3" x2="1414.9" y2="2900.7" stroke="#1c1a1b" stroke-width="2.4" shape-rendering="crispEdges"/>
<line x1="1720.8" y1="2883.3" x2="1720.8" y2="2900.7" stroke="#1c1a1b" stroke-width="2.4" shape-rendering="crispEdges"/>
<line x1="1868.5" y1="2883.3" x2="1868.5" y2="2900.7" stroke="#1c1a1b" stroke-width="2.4" shape-rendering="crispEdges"/>
<line x1="673.3" y1="2883.3" x2="673.3" y2="2905.3" stroke="#1c1a1b" stroke-width="2.4" shape-rendering="crispEdges"/>
<line x1="1121.3" y1="2883.3" x2="1121.3" y2="2905.3" stroke="#1c1a1b" stroke-width="2.4" shape-rendering="crispEdges"/>
<line x1="1573.8" y1="2883.3" x2="1573.8" y2="2905.3" stroke="#1c1a1b" stroke-width="2.4" shape-rendering="crispEdges"/>
<path d="M220.5,275.87 L228.54,276.07 L236.57,276.3 L244.61,276.53 L252.64,276.79 L260.68,277.06 L268.71,277.34 L276.75,277.64 L284.79,277.96 L292.82,278.29 L300.86,278.64 L308.89,279.01 L316.93,279.39 L324.96,279.78 L333,280.19 L341.04,280.62 L349.07,281.07 L357.11,281.53 L365.14,282 L373.18,282.49 L381.21,283 L389.25,283.53 L397.29,284.07 L405.32,284.62 L413.36,285.2 L421.39,285.79 L429.43,286.39 L437.46,287.01 L445.5,287.65 L453.54,288.31 L461.57,288.98 L469.61,289.66 L477.64,290.37 L485.68,291.09 L493.71,291.82 L501.75,292.57 L509.79,293.34 L517.82,294.13 L525.86,294.93 L533.89,295.75 L541.93,296.58 L549.96,297.43 L558,298.3 L566.04,299.19 L574.07,300.09 L582.11,301 L590.14,301.94 L598.18,302.89 L606.21,303.86 L614.25,304.84 L622.29,305.84 L630.32,306.86 L638.36,307.9 L646.39,308.95 L654.43,310.02 L662.46,311.1 L670.5,312.2 L678.54,313.32 L686.57,314.46 L694.61,315.61 L702.64,316.78 L710.68,317.97 L718.71,319.17 L726.75,320.39 L734.79,321.63 L742.82,322.89 L750.86,324.16 L758.89,325.45 L766.93,326.76 L774.96,328.08 L783,329.42 L791.04,330.78 L799.07,332.15 L807.11,333.55 L815.14,334.96 L823.18,336.38 L831.21,337.83 L839.25,339.29 L847.29,340.77 L855.32,342.27 L863.36,343.78 L871.39,345.31 L879.43,346.86 L887.46,348.43 L895.5,350.01 L903.54,351.61 L911.57,353.23 L919.61,354.87 L927.64,356.52 L935.68,358.2 L943.71,359.89 L951.75,361.59 L959.79,363.32 L967.82,365.06 L975.86,366.82 L983.89,368.6 L991.93,370.4 L999.96,372.21 L1008,374.04 L1016.04,375.89 L1024.07,377.76 L1032.11,379.64 L1040.14,381.55 L1048.18,383.47 L1056.21,385.41 L1064.25,387.36 L1072.29,389.34 L1080.32,391.33 L1088.36,393.34 L1096.39,395.37 L1104.43,397.42 L1112.46,399.48 L1120.5,401.57 L1128.54,403.67 L1136.57,405.79 L1144.61,407.92 L1152.64,410.08 L1160.68,412.26 L1168.71,414.45 L1176.75,416.66 L1184.79,418.89 L1192.82,421.14 L1200.86,423.4 L1208.89,425.69 L1216.93,427.99 L1224.96,430.31 L1233,432.65 L1241.04,435.01 L1249.07,437.38 L1257.11,439.78 L1265.14,442.19 L1273.18,444.62 L1281.21,447.07 L1289.25,449.54 L1297.29,452.03 L1305.32,454.54 L1313.36,457.06 L1321.39,459.61 L1329.43,462.17 L1337.46,464.75 L1345.5,467.35 L1353.54,469.97 L1361.57,472.61 L1369.61,475.26 L1377.64,477.94 L1385.68,480.63 L1393.71,483.34 L1401.75,486.08 L1409.79,488.83 L1417.82,491.6 L1425.86,494.39 L1433.89,497.19 L1441.93,500.02 L1449.96,502.87 L1458,505.73 L1466.04,508.61 L1474.07,511.52 L1482.11,514.44 L1490.14,517.38 L1498.18,520.34 L1506.21,523.32 L1514.25,526.32 L1522.29,529.34 L1530.32,532.38 L1538.36,535.43 L1546.39,538.51 L1554.43,541.6 L1562.46,544.72 L1570.5,547.85 L1578.54,551.01 L1586.57,554.18 L1594.61,557.37 L1602.64,560.58 L1610.68,563.81 L1618.71,567.06 L1626.75,570.33 L1634.79,573.62 L1642.82,576.93 L1650.86,580.26 L1658.89,583.61 L1666.93,586.98 L1674.96,590.37 L1683,593.77 L1691.04,597.2 L1699.07,600.65 L1707.11,604.12 L1715.14,607.6 L1723.18,611.11 L1731.21,614.63 L1739.25,618.18 L1747.29,621.75 L1755.32,625.33 L1763.36,628.94 L1771.39,632.56 L1779.43,636.21 L1787.46,639.87 L1795.5,643.56 L1803.54,647.26 L1811.57,650.99 L1819.61,654.74 L1827.64,658.5 L1835.68,662.29 L1843.71,666.09 L1851.75,669.92 L1859.79,673.77 L1867.82,677.63 L1875.86,681.52 L1883.89,685.42 L1891.93,689.35 L1899.96,693.3 L1908,697.27 L1916.04,701.26 L1924.07,705.26 L1932.11,709.29 L1940.14,713.34 L1948.18,717.41 L1956.21,721.5 L1964.25,725.61 L1972.29,729.74 L1980.32,733.89 L1988.36,738.07 L1996.39,742.26 L2004.43,746.47 L2012.46,750.7 L2020.5,754.96" fill="none" stroke="#0788d1" stroke-width="9.8" stroke-linecap="round" stroke-linejoin="round"/>
<path d="M220.5,316.39 L228.56,316.4 L236.62,316.43 L244.69,316.47 L252.75,316.52 L260.81,316.6 L268.88,316.69 L276.94,316.8 L285,316.93 L293.06,317.07 L301.12,317.23 L309.19,317.41 L317.25,317.61 L325.31,317.82 L333.38,318.05 L341.44,318.3 L349.5,318.56 L357.56,318.85 L365.62,319.15 L373.69,319.47 L381.75,319.8 L389.81,320.16 L397.88,320.53 L405.94,320.92 L414,321.33 L422.06,321.76 L430.12,322.2 L438.19,322.67 L446.25,323.15 L454.31,323.65 L462.38,324.16 L470.44,324.7 L478.5,325.25 L486.56,325.83 L494.62,326.42 L502.69,327.03 L510.75,327.66 L518.81,328.31 L526.88,328.97 L534.94,329.66 L543,330.36 L551.06,331.08 L559.12,331.83 L567.19,332.59 L575.25,333.37 L583.31,334.16 L591.38,334.98 L599.44,335.82 L607.5,336.68 L615.56,337.55 L623.62,338.45 L631.69,339.36 L639.75,340.3 L647.81,341.25 L655.88,342.22 L663.94,343.22 L672,344.23 L680.06,345.26 L688.12,346.32 L696.19,347.39 L704.25,348.48 L712.31,349.59 L720.38,350.72 L728.44,351.88 L736.5,353.05 L744.56,354.24 L752.62,355.45 L760.69,356.68 L768.75,357.94 L776.81,359.21 L784.88,360.51 L792.94,361.82 L801,363.15 L809.06,364.51 L817.12,365.89 L825.19,367.28 L833.25,368.7 L841.31,370.14 L849.38,371.6 L857.44,373.08 L865.5,374.58 L873.56,376.1 L881.62,377.64 L889.69,379.21 L897.75,380.79 L905.81,382.4 L913.88,384.03 L921.94,385.68 L930,387.35 L938.06,389.04 L946.12,390.75 L954.19,392.49 L962.25,394.24 L970.31,396.02 L978.38,397.82 L986.44,399.64 L994.5,401.49 L1002.56,403.35 L1010.62,405.24 L1018.69,407.15 L1026.75,409.08 L1034.81,411.03 L1042.88,413.01 L1050.94,415 L1059,417.02 L1067.06,419.07 L1075.12,421.13 L1083.19,423.22 L1091.25,425.32 L1099.31,427.46 L1107.38,429.61 L1115.44,431.79 L1123.5,433.98 L1131.56,436.21 L1139.62,438.45 L1147.69,440.72 L1155.75,443.01 L1163.81,445.32 L1171.88,447.66 L1179.94,450.01 L1188,452.4 L1196.06,454.8 L1204.12,457.23 L1212.19,459.68 L1220.25,462.15 L1228.31,464.65 L1236.38,467.17 L1244.44,469.72 L1252.5,472.29 L1260.56,474.88 L1268.62,477.49 L1276.69,480.13 L1284.75,482.79 L1292.81,485.48 L1300.88,488.19 L1308.94,490.92 L1317,493.68 L1325.06,496.46 L1333.12,499.27 L1341.19,502.1 L1349.25,504.95 L1357.31,507.83 L1365.38,510.73 L1373.44,513.65 L1381.5,516.61 L1389.56,519.58 L1397.62,522.58 L1405.69,525.6 L1413.75,528.65 L1421.81,531.72 L1429.88,534.82 L1437.94,537.94 L1446,541.09 L1454.06,544.26 L1462.12,547.46 L1470.19,550.68 L1478.25,553.92 L1486.31,557.19 L1494.38,560.49 L1502.44,563.81 L1510.5,567.16 L1518.56,570.53 L1526.62,573.92 L1534.69,577.35 L1542.75,580.79 L1550.81,584.27 L1558.88,587.76 L1566.94,591.29 L1575,594.84 L1583.06,598.41 L1591.12,602.01 L1599.19,605.64 L1607.25,609.29 L1615.31,612.97 L1623.38,616.67 L1631.44,620.4 L1639.5,624.16 L1647.56,627.94 L1655.62,631.74 L1663.69,635.58 L1671.75,639.44 L1679.81,643.32 L1687.88,647.24 L1695.94,651.17 L1704,655.14" fill="none" stroke="#0788d1" stroke-width="9.8" stroke-linecap="round" stroke-linejoin="round"/>
<path d="M220.5,428.93 L228.56,429.15 L236.62,429.38 L244.69,429.63 L252.75,429.89 L260.81,430.17 L268.88,430.47 L276.94,430.78 L285,431.11 L293.06,431.45 L301.12,431.81 L309.19,432.18 L317.25,432.57 L325.31,432.98 L333.38,433.4 L341.44,433.84 L349.5,434.3 L357.56,434.77 L365.62,435.25 L373.69,435.75 L381.75,436.27 L389.81,436.81 L397.88,437.36 L405.94,437.92 L414,438.51 L422.06,439.11 L430.12,439.72 L438.19,440.35 L446.25,441 L454.31,441.66 L462.38,442.35 L470.44,443.04 L478.5,443.76 L486.56,444.48 L494.62,445.23 L502.69,445.99 L510.75,446.77 L518.81,447.57 L526.88,448.38 L534.94,449.21 L543,450.05 L551.06,450.91 L559.12,451.79 L567.19,452.69 L575.25,453.6 L583.31,454.53 L591.38,455.47 L599.44,456.43 L607.5,457.41 L615.56,458.41 L623.62,459.42 L631.69,460.45 L639.75,461.49 L647.81,462.56 L655.88,463.64 L663.94,464.73 L672,465.85 L680.06,466.98 L688.12,468.12 L696.19,469.29 L704.25,470.47 L712.31,471.67 L720.38,472.88 L728.44,474.12 L736.5,475.37 L744.56,476.63 L752.62,477.92 L760.69,479.22 L768.75,480.54 L776.81,481.88 L784.88,483.23 L792.94,484.6 L801,485.99 L809.06,487.4 L817.12,488.82 L825.19,490.26 L833.25,491.72 L841.31,493.19 L849.38,494.69 L857.44,496.2 L865.5,497.73 L873.56,499.27 L881.62,500.84 L889.69,502.42 L897.75,504.02 L905.81,505.63 L913.88,507.27 L921.94,508.92 L930,510.59 L938.06,512.28 L946.12,513.98 L954.19,515.71 L962.25,517.45 L970.31,519.21 L978.38,520.98 L986.44,522.78 L994.5,524.59 L1002.56,526.42 L1010.62,528.27 L1018.69,530.14 L1026.75,532.02 L1034.81,533.93 L1042.88,535.85 L1050.94,537.79 L1059,539.75 L1067.06,541.72 L1075.12,543.72 L1083.19,545.73 L1091.25,547.76 L1099.31,549.81 L1107.38,551.88 L1115.44,553.96 L1123.5,556.07 L1131.56,558.19 L1139.62,560.33 L1147.69,562.49 L1155.75,564.67 L1163.81,566.86 L1171.88,569.08 L1179.94,571.31 L1188,573.56 L1196.06,575.84 L1204.12,578.13 L1212.19,580.43 L1220.25,582.76 L1228.31,585.11 L1236.38,587.47 L1244.44,589.85 L1252.5,592.25 L1260.56,594.67 L1268.62,597.11 L1276.69,599.57 L1284.75,602.05 L1292.81,604.55 L1300.88,607.06 L1308.94,609.59 L1317,612.15 L1325.06,614.72 L1333.12,617.31 L1341.19,619.92 L1349.25,622.55 L1357.31,625.2 L1365.38,627.87 L1373.44,630.55 L1381.5,633.26 L1389.56,635.98 L1397.62,638.73 L1405.69,641.49 L1413.75,644.27 L1421.81,647.08 L1429.88,649.9 L1437.94,652.74 L1446,655.6 L1454.06,658.48 L1462.12,661.38 L1470.19,664.3 L1478.25,667.23 L1486.31,670.19 L1494.38,673.17 L1502.44,676.17 L1510.5,679.18 L1518.56,682.22 L1526.62,685.27 L1534.69,688.35 L1542.75,691.44 L1550.81,694.56 L1558.88,697.69 L1566.94,700.85 L1575,704.02 L1583.06,707.21 L1591.12,710.43 L1599.19,713.66 L1607.25,716.92 L1615.31,720.19 L1623.38,723.48 L1631.44,726.8 L1639.5,730.13 L1647.56,733.48 L1655.62,736.86 L1663.69,740.25 L1671.75,743.66 L1679.81,747.1 L1687.88,750.55 L1695.94,754.02 L1704,757.52" fill="none" stroke="#0788d1" stroke-width="9.8" stroke-linecap="round" stroke-linejoin="round"/>
<path d="M220.5,552.59 L228.58,552.57 L236.65,552.57 L244.73,552.59 L252.8,552.62 L260.88,552.67 L268.95,552.73 L277.03,552.81 L285.1,552.91 L293.18,553.03 L301.25,553.16 L309.33,553.32 L317.4,553.48 L325.48,553.67 L333.55,553.87 L341.63,554.1 L349.7,554.34 L357.78,554.59 L365.85,554.87 L373.93,555.16 L382.01,555.47 L390.08,555.8 L398.16,556.15 L406.23,556.51 L414.31,556.9 L422.38,557.3 L430.46,557.72 L438.53,558.16 L446.61,558.62 L454.68,559.09 L462.76,559.59 L470.83,560.1 L478.91,560.63 L486.98,561.18 L495.06,561.75 L503.13,562.34 L511.21,562.95 L519.28,563.58 L527.36,564.23 L535.44,564.89 L543.51,565.58 L551.59,566.28 L559.66,567.01 L567.74,567.75 L575.81,568.51 L583.89,569.3 L591.96,570.1 L600.04,570.92 L608.11,571.77 L616.19,572.63 L624.26,573.51 L632.34,574.41 L640.41,575.34 L648.49,576.28 L656.56,577.25 L664.64,578.23 L672.72,579.23 L680.79,580.26 L688.87,581.31 L696.94,582.37 L705.02,583.46 L713.09,584.57 L721.17,585.7 L729.24,586.85 L737.32,588.02 L745.39,589.21 L753.47,590.42 L761.54,591.66 L769.62,592.91 L777.69,594.19 L785.77,595.49 L793.84,596.81 L801.92,598.15 L809.99,599.51 L818.07,600.9 L826.15,602.31 L834.22,603.73 L842.3,605.18 L850.37,606.66 L858.45,608.15 L866.52,609.67 L874.6,611.21 L882.67,612.77 L890.75,614.35 L898.82,615.96 L906.9,617.59 L914.97,619.24 L923.05,620.91 L931.12,622.61 L939.2,624.33 L947.27,626.07 L955.35,627.84 L963.42,629.62 L971.5,631.43 L979.58,633.27 L987.65,635.12 L995.73,637.01 L1003.8,638.91 L1011.88,640.84 L1019.95,642.79 L1028.03,644.76 L1036.1,646.76 L1044.18,648.78 L1052.25,650.82 L1060.33,652.89 L1068.4,654.99 L1076.48,657.1 L1084.55,659.24 L1092.63,661.41 L1100.7,663.6 L1108.78,665.81 L1116.85,668.05 L1124.93,670.31 L1133.01,672.59 L1141.08,674.9 L1149.16,677.24 L1157.23,679.6 L1165.31,681.98 L1173.38,684.39 L1181.46,686.83 L1189.53,689.28 L1197.61,691.77 L1205.68,694.28 L1213.76,696.81 L1221.83,699.37 L1229.91,701.95 L1237.98,704.56 L1246.06,707.2 L1254.13,709.86 L1262.21,712.55 L1270.28,715.26 L1278.36,717.99 L1286.44,720.76 L1294.51,723.55 L1302.59,726.36 L1310.66,729.2 L1318.74,732.07 L1326.81,734.96 L1334.89,737.88 L1342.96,740.82 L1351.04,743.79 L1359.11,746.79 L1367.19,749.82 L1375.26,752.87 L1383.34,755.94 L1391.41,759.05 L1399.49,762.18 L1407.56,765.33 L1415.64,768.52 L1423.72,771.73 L1431.79,774.97 L1439.87,778.23 L1447.94,781.52 L1456.02,784.84 L1464.09,788.19 L1472.17,791.56 L1480.24,794.96 L1488.32,798.39 L1496.39,801.85 L1504.47,805.33 L1512.54,808.84 L1520.62,812.38 L1528.69,815.95 L1536.77,819.54 L1544.84,823.17 L1552.92,826.82 L1560.99,830.49 L1569.07,834.2 L1577.15,837.94 L1585.22,841.7 L1593.3,845.49 L1601.37,849.31 L1609.45,853.16 L1617.52,857.04 L1625.6,860.94 L1633.67,864.88 L1641.75,868.84 L1649.82,872.83 L1657.9,876.85 L1665.97,880.9 L1674.05,884.98 L1682.12,889.09 L1690.2,893.22 L1698.27,897.39 L1706.35,901.59 L1714.42,905.81 L1722.5,910.07" fill="none" stroke="#0788d1" stroke-width="9.8" stroke-linecap="round" stroke-linejoin="round"/>
<path d="M220.5,654.64 L228.59,655.21 L236.67,655.8 L244.76,656.41 L252.85,657.04 L260.93,657.69 L269.02,658.36 L277.11,659.04 L285.2,659.75 L293.28,660.47 L301.37,661.21 L309.46,661.97 L317.54,662.75 L325.63,663.55 L333.72,664.37 L341.8,665.21 L349.89,666.07 L357.98,666.94 L366.07,667.84 L374.15,668.75 L382.24,669.68 L390.33,670.64 L398.41,671.61 L406.5,672.6 L414.59,673.61 L422.67,674.64 L430.76,675.69 L438.85,676.75 L446.93,677.84 L455.02,678.95 L463.11,680.08 L471.2,681.22 L479.28,682.39 L487.37,683.57 L495.46,684.78 L503.54,686 L511.63,687.25 L519.72,688.51 L527.8,689.79 L535.89,691.1 L543.98,692.42 L552.07,693.76 L560.15,695.12 L568.24,696.51 L576.33,697.91 L584.41,699.33 L592.5,700.77 L600.59,702.24 L608.67,703.72 L616.76,705.22 L624.85,706.74 L632.93,708.29 L641.02,709.85 L649.11,711.43 L657.2,713.03 L665.28,714.66 L673.37,716.3 L681.46,717.96 L689.54,719.65 L697.63,721.35 L705.72,723.08 L713.8,724.82 L721.89,726.59 L729.98,728.37 L738.07,730.18 L746.15,732 L754.24,733.85 L762.33,735.72 L770.41,737.61 L778.5,739.52 L786.59,741.45 L794.67,743.4 L802.76,745.37 L810.85,747.36 L818.93,749.37 L827.02,751.41 L835.11,753.46 L843.2,755.53 L851.28,757.63 L859.37,759.75 L867.46,761.88 L875.54,764.04 L883.63,766.22 L891.72,768.42 L899.8,770.65 L907.89,772.89 L915.98,775.15 L924.07,777.44 L932.15,779.74 L940.24,782.07 L948.33,784.42 L956.41,786.79 L964.5,789.18 L972.59,791.59 L980.67,794.03 L988.76,796.48 L996.85,798.96 L1004.93,801.45 L1013.02,803.97 L1021.11,806.51 L1029.2,809.08 L1037.28,811.66 L1045.37,814.27 L1053.46,816.89 L1061.54,819.54 L1069.63,822.21 L1077.72,824.9 L1085.8,827.62 L1093.89,830.35 L1101.98,833.11 L1110.07,835.89 L1118.15,838.69 L1126.24,841.51 L1134.33,844.36 L1142.41,847.22 L1150.5,850.11 L1158.59,853.02 L1166.67,855.95 L1174.76,858.91 L1182.85,861.89 L1190.93,864.88 L1199.02,867.9 L1207.11,870.95 L1215.2,874.01 L1223.28,877.1 L1231.37,880.21 L1239.46,883.34 L1247.54,886.49 L1255.63,889.67 L1263.72,892.87 L1271.8,896.09 L1279.89,899.33 L1287.98,902.6 L1296.07,905.89 L1304.15,909.2 L1312.24,912.53 L1320.33,915.89 L1328.41,919.26 L1336.5,922.67 L1344.59,926.09 L1352.67,929.54 L1360.76,933 L1368.85,936.5 L1376.93,940.01 L1385.02,943.55 L1393.11,947.11 L1401.2,950.69 L1409.28,954.3 L1417.37,957.92 L1425.46,961.58 L1433.54,965.25 L1441.63,968.95 L1449.72,972.67 L1457.8,976.41 L1465.89,980.18 L1473.98,983.97 L1482.07,987.78 L1490.15,991.62 L1498.24,995.48 L1506.33,999.36 L1514.41,1003.26 L1522.5,1007.19" fill="none" stroke="#0788d1" stroke-width="9.8" stroke-linecap="round" stroke-linejoin="round"/>
<path d="M220.5,1854.11 L228.54,1851.28 L236.58,1848.46 L244.61,1845.64 L252.65,1842.84 L260.69,1840.04 L268.73,1837.25 L276.77,1834.48 L284.8,1831.71 L292.84,1828.95 L300.88,1826.19 L308.92,1823.45 L316.96,1820.72 L324.99,1817.99 L333.03,1815.28 L341.07,1812.57 L349.11,1809.87 L357.15,1807.18 L365.18,1804.5 L373.22,1801.83 L381.26,1799.16 L389.3,1796.51 L397.33,1793.86 L405.37,1791.22 L413.41,1788.59 L421.45,1785.97 L429.49,1783.36 L437.52,1780.76 L445.56,1778.16 L453.6,1775.57 L461.64,1773 L469.68,1770.43 L477.71,1767.86 L485.75,1765.31 L493.79,1762.77 L501.83,1760.23 L509.87,1757.7 L517.9,1755.18 L525.94,1752.67 L533.98,1750.17 L542.02,1747.67 L550.06,1745.19 L558.09,1742.71 L566.13,1740.24 L574.17,1737.78 L582.21,1735.33 L590.25,1732.88 L598.28,1730.44 L606.32,1728.01 L614.36,1725.59 L622.4,1723.18 L630.44,1720.78 L638.47,1718.38 L646.51,1715.99 L654.55,1713.61 L662.59,1711.24 L670.62,1708.87 L678.66,1706.52 L686.7,1704.17 L694.74,1701.83 L702.78,1699.49 L710.81,1697.17 L718.85,1694.85 L726.89,1692.54 L734.93,1690.24 L742.97,1687.95 L751,1685.66 L759.04,1683.38 L767.08,1681.11 L775.12,1678.85 L783.16,1676.6 L791.19,1674.35 L799.23,1672.11 L807.27,1669.88 L815.31,1667.65 L823.35,1665.44 L831.38,1663.23 L839.42,1661.03 L847.46,1658.83 L855.5,1656.65 L863.54,1654.47 L871.57,1652.3 L879.61,1650.13 L887.65,1647.97 L895.69,1645.83 L903.73,1643.68 L911.76,1641.55 L919.8,1639.42 L927.84,1637.3 L935.88,1635.19 L943.92,1633.09 L951.95,1630.99 L959.99,1628.9 L968.03,1626.81 L976.07,1624.74 L984.1,1622.67 L992.14,1620.61 L1000.18,1618.55 L1008.22,1616.51 L1016.26,1614.47 L1024.29,1612.43 L1032.33,1610.41 L1040.37,1608.39 L1048.41,1606.38 L1056.45,1604.37 L1064.48,1602.38 L1072.52,1600.39 L1080.56,1598.4 L1088.6,1596.43 L1096.64,1594.46 L1104.67,1592.49 L1112.71,1590.54 L1120.75,1588.59 L1128.79,1586.65 L1136.83,1584.71 L1144.86,1582.78 L1152.9,1580.86 L1160.94,1578.95 L1168.98,1577.04 L1177.02,1575.14 L1185.05,1573.24 L1193.09,1571.35 L1201.13,1569.47 L1209.17,1567.6 L1217.21,1565.73 L1225.24,1563.87 L1233.28,1562.01 L1241.32,1560.17 L1249.36,1558.32 L1257.4,1556.49 L1265.43,1554.66 L1273.47,1552.84 L1281.51,1551.02 L1289.55,1549.22 L1297.58,1547.41 L1305.62,1545.62 L1313.66,1543.83 L1321.7,1542.04 L1329.74,1540.27 L1337.77,1538.5 L1345.81,1536.73 L1353.85,1534.97 L1361.89,1533.22 L1369.93,1531.48 L1377.96,1529.74 L1386,1528.01 L1394.04,1526.28 L1402.08,1524.56 L1410.12,1522.85 L1418.15,1521.14 L1426.19,1519.44 L1434.23,1517.74 L1442.27,1516.05 L1450.31,1514.37 L1458.34,1512.69 L1466.38,1511.02 L1474.42,1509.35 L1482.46,1507.69 L1490.5,1506.04 L1498.53,1504.39 L1506.57,1502.75 L1514.61,1501.12 L1522.65,1499.49 L1530.69,1497.86 L1538.72,1496.24 L1546.76,1494.63 L1554.8,1493.03 L1562.84,1491.43 L1570.88,1489.83 L1578.91,1488.24 L1586.95,1486.66 L1594.99,1485.08 L1603.03,1483.51 L1611.06,1481.94 L1619.1,1480.38 L1627.14,1478.83 L1635.18,1477.28 L1643.22,1475.74 L1651.25,1474.2 L1659.29,1472.67 L1667.33,1471.14 L1675.37,1469.62 L1683.41,1468.1 L1691.44,1466.59 L1699.48,1465.09 L1707.52,1463.59 L1715.56,1462.1 L1723.6,1460.61 L1731.63,1459.13 L1739.67,1457.65 L1747.71,1456.18 L1755.75,1454.71 L1763.79,1453.25 L1771.82,1451.79 L1779.86,1450.34 L1787.9,1448.9 L1795.94,1447.46 L1803.98,1446.02 L1812.01,1444.59 L1820.05,1443.17 L1828.09,1441.75 L1836.13,1440.33 L1844.17,1438.92 L1852.2,1437.52 L1860.24,1436.12 L1868.28,1434.73 L1876.32,1433.34 L1884.35,1431.95 L1892.39,1430.58 L1900.43,1429.2 L1908.47,1427.83 L1916.51,1426.47 L1924.54,1425.11 L1932.58,1423.76 L1940.62,1422.41 L1948.66,1421.06 L1956.7,1419.72 L1964.73,1418.39 L1972.77,1417.06 L1980.81,1415.73 L1988.85,1414.41 L1996.89,1413.1 L2004.92,1411.79 L2012.96,1410.48 L2021,1409.18" fill="none" stroke="#0788d1" stroke-width="9.8" stroke-linecap="round" stroke-linejoin="round"/>
<path d="M220.5,1867.51 L228.56,1865.66 L236.63,1863.81 L244.69,1861.96 L252.75,1860.11 L260.82,1858.26 L268.88,1856.41 L276.95,1854.55 L285.01,1852.7 L293.07,1850.85 L301.14,1849 L309.2,1847.14 L317.26,1845.29 L325.33,1843.43 L333.39,1841.58 L341.46,1839.72 L349.52,1837.87 L357.58,1836.01 L365.65,1834.15 L373.71,1832.3 L381.77,1830.44 L389.84,1828.58 L397.9,1826.72 L405.96,1824.87 L414.03,1823.01 L422.09,1821.15 L430.16,1819.29 L438.22,1817.43 L446.28,1815.57 L454.35,1813.71 L462.41,1811.85 L470.47,1809.99 L478.54,1808.13 L486.6,1806.27 L494.67,1804.41 L502.73,1802.55 L510.79,1800.69 L518.86,1798.83 L526.92,1796.97 L534.98,1795.11 L543.05,1793.25 L551.11,1791.39 L559.17,1789.53 L567.24,1787.67 L575.3,1785.81 L583.37,1783.95 L591.43,1782.09 L599.49,1780.23 L607.56,1778.37 L615.62,1776.51 L623.68,1774.66 L631.75,1772.8 L639.81,1770.94 L647.88,1769.08 L655.94,1767.22 L664,1765.36 L672.07,1763.5 L680.13,1761.65 L688.19,1759.79 L696.26,1757.93 L704.32,1756.08 L712.38,1754.22 L720.45,1752.36 L728.51,1750.51 L736.58,1748.65 L744.64,1746.8 L752.7,1744.94 L760.77,1743.09 L768.83,1741.23 L776.89,1739.38 L784.96,1737.53 L793.02,1735.68 L801.08,1733.82 L809.15,1731.97 L817.21,1730.12 L825.28,1728.27 L833.34,1726.42 L841.4,1724.58 L849.47,1722.73 L857.53,1720.88 L865.59,1719.03 L873.66,1717.19 L881.72,1715.34 L889.79,1713.5 L897.85,1711.65 L905.91,1709.81 L913.98,1707.96 L922.04,1706.12 L930.1,1704.28 L938.17,1702.44 L946.23,1700.6 L954.29,1698.76 L962.36,1696.92 L970.42,1695.09 L978.49,1693.25 L986.55,1691.42 L994.61,1689.58 L1002.68,1687.75 L1010.74,1685.91 L1018.8,1684.08 L1026.87,1682.25 L1034.93,1680.42 L1043,1678.59 L1051.06,1676.77 L1059.12,1674.94 L1067.19,1673.11 L1075.25,1671.29 L1083.31,1669.46 L1091.38,1667.64 L1099.44,1665.82 L1107.5,1664 L1115.57,1662.18 L1123.63,1660.36 L1131.7,1658.55 L1139.76,1656.73 L1147.82,1654.92 L1155.89,1653.1 L1163.95,1651.29 L1172.01,1649.48 L1180.08,1647.67 L1188.14,1645.86 L1196.21,1644.06 L1204.27,1642.25 L1212.33,1640.45 L1220.4,1638.64 L1228.46,1636.84 L1236.52,1635.04 L1244.59,1633.24 L1252.65,1631.44 L1260.71,1629.65 L1268.78,1627.85 L1276.84,1626.06 L1284.91,1624.27 L1292.97,1622.48 L1301.03,1620.69 L1309.1,1618.9 L1317.16,1617.12 L1325.22,1615.33 L1333.29,1613.55 L1341.35,1611.77 L1349.42,1609.99 L1357.48,1608.21 L1365.54,1606.44 L1373.61,1604.66 L1381.67,1602.89 L1389.73,1601.12 L1397.8,1599.35 L1405.86,1597.58 L1413.92,1595.82 L1421.99,1594.05 L1430.05,1592.29 L1438.12,1590.53 L1446.18,1588.77 L1454.24,1587.01 L1462.31,1585.26 L1470.37,1583.5 L1478.43,1581.75 L1486.5,1580 L1494.56,1578.26 L1502.62,1576.51 L1510.69,1574.77 L1518.75,1573.02 L1526.82,1571.28 L1534.88,1569.54 L1542.94,1567.81 L1551.01,1566.07 L1559.07,1564.34 L1567.13,1562.61 L1575.2,1560.88 L1583.26,1559.16 L1591.33,1557.43 L1599.39,1555.71 L1607.45,1553.99 L1615.52,1552.27 L1623.58,1550.56 L1631.64,1548.85 L1639.71,1547.13 L1647.77,1545.43 L1655.83,1543.72 L1663.9,1542.01 L1671.96,1540.31 L1680.03,1538.61 L1688.09,1536.91 L1696.15,1535.22 L1704.22,1533.53 L1712.28,1531.83 L1720.34,1530.15 L1728.41,1528.46 L1736.47,1526.78 L1744.54,1525.09 L1752.6,1523.42 L1760.66,1521.74 L1768.73,1520.06 L1776.79,1518.39 L1784.85,1516.72 L1792.92,1515.06 L1800.98,1513.39 L1809.04,1511.73 L1817.11,1510.07 L1825.17,1508.41 L1833.24,1506.76 L1841.3,1505.11 L1849.36,1503.46 L1857.43,1501.81 L1865.49,1500.17 L1873.55,1498.53 L1881.62,1496.89 L1889.68,1495.25 L1897.75,1493.62 L1905.81,1491.99 L1913.87,1490.36 L1921.94,1488.74 L1930,1487.11" fill="none" stroke="#0788d1" stroke-width="9.8" stroke-linecap="round" stroke-linejoin="round"/>
<path d="M220.5,1885.71 L228.57,1884.05 L236.63,1882.39 L244.7,1880.72 L252.76,1879.06 L260.83,1877.4 L268.89,1875.74 L276.96,1874.07 L285.02,1872.41 L293.09,1870.75 L301.16,1869.08 L309.22,1867.42 L317.29,1865.75 L325.35,1864.09 L333.42,1862.43 L341.48,1860.76 L349.55,1859.1 L357.61,1857.43 L365.68,1855.77 L373.75,1854.1 L381.81,1852.44 L389.88,1850.77 L397.94,1849.1 L406.01,1847.44 L414.07,1845.77 L422.14,1844.11 L430.2,1842.44 L438.27,1840.77 L446.33,1839.11 L454.4,1837.44 L462.47,1835.77 L470.53,1834.1 L478.6,1832.44 L486.66,1830.77 L494.73,1829.1 L502.79,1827.43 L510.86,1825.76 L518.92,1824.09 L526.99,1822.43 L535.06,1820.76 L543.12,1819.09 L551.19,1817.42 L559.25,1815.75 L567.32,1814.08 L575.38,1812.41 L583.45,1810.74 L591.51,1809.07 L599.58,1807.4 L607.65,1805.73 L615.71,1804.06 L623.78,1802.38 L631.84,1800.71 L639.91,1799.04 L647.97,1797.37 L656.04,1795.7 L664.1,1794.03 L672.17,1792.35 L680.24,1790.68 L688.3,1789.01 L696.37,1787.33 L704.43,1785.66 L712.5,1783.99 L720.56,1782.31 L728.63,1780.64 L736.69,1778.97 L744.76,1777.29 L752.83,1775.62 L760.89,1773.94 L768.96,1772.27 L777.02,1770.59 L785.09,1768.92 L793.15,1767.24 L801.22,1765.56 L809.28,1763.89 L817.35,1762.21 L825.42,1760.53 L833.48,1758.86 L841.55,1757.18 L849.61,1755.5 L857.68,1753.83 L865.74,1752.15 L873.81,1750.47 L881.87,1748.79 L889.94,1747.11 L898,1745.44 L906.07,1743.76 L914.14,1742.08 L922.2,1740.4 L930.27,1738.72 L938.33,1737.04 L946.4,1735.36 L954.46,1733.68 L962.53,1732 L970.59,1730.32 L978.66,1728.64 L986.73,1726.96 L994.79,1725.27 L1002.86,1723.59 L1010.92,1721.91 L1018.99,1720.23 L1027.05,1718.55 L1035.12,1716.86 L1043.18,1715.18 L1051.25,1713.5 L1059.32,1711.81 L1067.38,1710.13 L1075.45,1708.45 L1083.51,1706.76 L1091.58,1705.08 L1099.64,1703.39 L1107.71,1701.71 L1115.77,1700.02 L1123.84,1698.34 L1131.91,1696.65 L1139.97,1694.97 L1148.04,1693.28 L1156.1,1691.59 L1164.17,1689.91 L1172.23,1688.22 L1180.3,1686.53 L1188.36,1684.85 L1196.43,1683.16 L1204.5,1681.47 L1212.56,1679.78 L1220.63,1678.09 L1228.69,1676.41 L1236.76,1674.72 L1244.82,1673.03 L1252.89,1671.34 L1260.95,1669.65 L1269.02,1667.96 L1277.08,1666.27 L1285.15,1664.58 L1293.22,1662.89 L1301.28,1661.2 L1309.35,1659.51 L1317.41,1657.81 L1325.48,1656.12 L1333.54,1654.43 L1341.61,1652.74 L1349.67,1651.05 L1357.74,1649.35 L1365.81,1647.66 L1373.87,1645.97 L1381.94,1644.27 L1390,1642.58 L1398.07,1640.88 L1406.13,1639.19 L1414.2,1637.49 L1422.26,1635.8 L1430.33,1634.1 L1438.4,1632.41 L1446.46,1630.71 L1454.53,1629.02 L1462.59,1627.32 L1470.66,1625.62 L1478.72,1623.93 L1486.79,1622.23 L1494.85,1620.53 L1502.92,1618.83 L1510.99,1617.14 L1519.05,1615.44 L1527.12,1613.74 L1535.18,1612.04 L1543.25,1610.34 L1551.31,1608.64 L1559.38,1606.94 L1567.44,1605.24 L1575.51,1603.54 L1583.58,1601.84 L1591.64,1600.14 L1599.71,1598.44 L1607.77,1596.74 L1615.84,1595.03 L1623.9,1593.33 L1631.97,1591.63 L1640.03,1589.93 L1648.1,1588.22 L1656.17,1586.52 L1664.23,1584.82 L1672.3,1583.11 L1680.36,1581.41 L1688.43,1579.7 L1696.49,1578 L1704.56,1576.29 L1712.62,1574.59 L1720.69,1572.88 L1728.75,1571.18 L1736.82,1569.47 L1744.89,1567.76 L1752.95,1566.06 L1761.02,1564.35 L1769.08,1562.64 L1777.15,1560.93 L1785.21,1559.23 L1793.28,1557.52 L1801.34,1555.81 L1809.41,1554.1 L1817.48,1552.39 L1825.54,1550.68 L1833.61,1548.97 L1841.67,1547.26 L1849.74,1545.55 L1857.8,1543.84 L1865.87,1542.13 L1873.93,1540.41 L1882,1538.7" fill="none" stroke="#0788d1" stroke-width="9.8" stroke-linecap="round" stroke-linejoin="round"/>
<path d="M220.5,1929.79 L228.56,1927.91 L236.63,1926.04 L244.69,1924.17 L252.75,1922.31 L260.82,1920.46 L268.88,1918.6 L276.95,1916.76 L285.01,1914.92 L293.07,1913.08 L301.14,1911.25 L309.2,1909.42 L317.26,1907.6 L325.33,1905.78 L333.39,1903.96 L341.46,1902.16 L349.52,1900.35 L357.58,1898.56 L365.65,1896.76 L373.71,1894.97 L381.77,1893.19 L389.84,1891.41 L397.9,1889.64 L405.96,1887.87 L414.03,1886.11 L422.09,1884.35 L430.16,1882.59 L438.22,1880.84 L446.28,1879.1 L454.35,1877.36 L462.41,1875.63 L470.47,1873.9 L478.54,1872.17 L486.6,1870.45 L494.67,1868.74 L502.73,1867.03 L510.79,1865.32 L518.86,1863.62 L526.92,1861.93 L534.98,1860.24 L543.05,1858.55 L551.11,1856.87 L559.17,1855.2 L567.24,1853.52 L575.3,1851.86 L583.37,1850.2 L591.43,1848.54 L599.49,1846.89 L607.56,1845.25 L615.62,1843.6 L623.68,1841.97 L631.75,1840.34 L639.81,1838.71 L647.88,1837.09 L655.94,1835.47 L664,1833.86 L672.07,1832.26 L680.13,1830.65 L688.19,1829.06 L696.26,1827.47 L704.32,1825.88 L712.38,1824.3 L720.45,1822.72 L728.51,1821.15 L736.58,1819.58 L744.64,1818.02 L752.7,1816.46 L760.77,1814.91 L768.83,1813.36 L776.89,1811.82 L784.96,1810.28 L793.02,1808.75 L801.08,1807.22 L809.15,1805.7 L817.21,1804.18 L825.28,1802.67 L833.34,1801.16 L841.4,1799.66 L849.47,1798.16 L857.53,1796.67 L865.59,1795.18 L873.66,1793.7 L881.72,1792.22 L889.79,1790.75 L897.85,1789.28 L905.91,1787.82 L913.98,1786.36 L922.04,1784.91 L930.1,1783.46 L938.17,1782.01 L946.23,1780.58 L954.29,1779.14 L962.36,1777.72 L970.42,1776.29 L978.49,1774.87 L986.55,1773.46 L994.61,1772.05 L1002.68,1770.65 L1010.74,1769.25 L1018.8,1767.86 L1026.87,1766.47 L1034.93,1765.09 L1043,1763.71 L1051.06,1762.33 L1059.12,1760.97 L1067.19,1759.6 L1075.25,1758.24 L1083.31,1756.89 L1091.38,1755.54 L1099.44,1754.2 L1107.5,1752.86 L1115.57,1751.53 L1123.63,1750.2 L1131.7,1748.87 L1139.76,1747.56 L1147.82,1746.24 L1155.89,1744.93 L1163.95,1743.63 L1172.01,1742.33 L1180.08,1741.04 L1188.14,1739.75 L1196.21,1738.47 L1204.27,1737.19 L1212.33,1735.91 L1220.4,1734.65 L1228.46,1733.38 L1236.52,1732.12 L1244.59,1730.87 L1252.65,1729.62 L1260.71,1728.38 L1268.78,1727.14 L1276.84,1725.91 L1284.91,1724.68 L1292.97,1723.45 L1301.03,1722.24 L1309.1,1721.02 L1317.16,1719.81 L1325.22,1718.61 L1333.29,1717.41 L1341.35,1716.22 L1349.42,1715.03 L1357.48,1713.85 L1365.54,1712.67 L1373.61,1711.5 L1381.67,1710.33 L1389.73,1709.17 L1397.8,1708.01 L1405.86,1706.86 L1413.92,1705.71 L1421.99,1704.56 L1430.05,1703.43 L1438.12,1702.29 L1446.18,1701.17 L1454.24,1700.04 L1462.31,1698.93 L1470.37,1697.81 L1478.43,1696.7 L1486.5,1695.6 L1494.56,1694.5 L1502.62,1693.41 L1510.69,1692.32 L1518.75,1691.24 L1526.82,1690.16 L1534.88,1689.09 L1542.94,1688.03 L1551.01,1686.96 L1559.07,1685.91 L1567.13,1684.85 L1575.2,1683.81 L1583.26,1682.76 L1591.33,1681.73 L1599.39,1680.7 L1607.45,1679.67 L1615.52,1678.65 L1623.58,1677.63 L1631.64,1676.62 L1639.71,1675.61 L1647.77,1674.61 L1655.83,1673.61 L1663.9,1672.62 L1671.96,1671.64 L1680.03,1670.66 L1688.09,1669.68 L1696.15,1668.71 L1704.22,1667.74 L1712.28,1666.78 L1720.34,1665.83 L1728.41,1664.87 L1736.47,1663.93 L1744.54,1662.99 L1752.6,1662.05 L1760.66,1661.12 L1768.73,1660.2 L1776.79,1659.28 L1784.85,1658.36 L1792.92,1657.45 L1800.98,1656.55 L1809.04,1655.65 L1817.11,1654.75 L1825.17,1653.86 L1833.24,1652.98 L1841.3,1652.1 L1849.36,1651.22 L1857.43,1650.35 L1865.49,1649.49 L1873.55,1648.63 L1881.62,1647.78 L1889.68,1646.93 L1897.75,1646.08 L1905.81,1645.24 L1913.87,1644.41 L1921.94,1643.58 L1930,1642.76" fill="none" stroke="#0788d1" stroke-width="9.8" stroke-linecap="round" stroke-linejoin="round"/>
<path d="M220.5,1958.42 L228.57,1956.54 L236.64,1954.67 L244.72,1952.81 L252.79,1950.95 L260.86,1949.11 L268.93,1947.27 L277,1945.44 L285.07,1943.61 L293.15,1941.8 L301.22,1939.99 L309.29,1938.2 L317.36,1936.41 L325.43,1934.63 L333.51,1932.85 L341.58,1931.09 L349.65,1929.33 L357.72,1927.59 L365.79,1925.85 L373.87,1924.11 L381.94,1922.39 L390.01,1920.68 L398.08,1918.97 L406.15,1917.27 L414.22,1915.58 L422.3,1913.9 L430.37,1912.22 L438.44,1910.56 L446.51,1908.9 L454.58,1907.25 L462.66,1905.61 L470.73,1903.98 L478.8,1902.35 L486.87,1900.74 L494.94,1899.13 L503.01,1897.53 L511.09,1895.94 L519.16,1894.36 L527.23,1892.78 L535.3,1891.21 L543.37,1889.66 L551.45,1888.11 L559.52,1886.56 L567.59,1885.03 L575.66,1883.5 L583.73,1881.99 L591.81,1880.48 L599.88,1878.97 L607.95,1877.48 L616.02,1876 L624.09,1874.52 L632.16,1873.05 L640.24,1871.59 L648.31,1870.14 L656.38,1868.7 L664.45,1867.26 L672.52,1865.83 L680.6,1864.41 L688.67,1863 L696.74,1861.6 L704.81,1860.2 L712.88,1858.82 L720.96,1857.44 L729.03,1856.07 L737.1,1854.71 L745.17,1853.35 L753.24,1852.01 L761.31,1850.67 L769.39,1849.34 L777.46,1848.02 L785.53,1846.7 L793.6,1845.4 L801.67,1844.1 L809.75,1842.81 L817.82,1841.53 L825.89,1840.26 L833.96,1839 L842.03,1837.74 L850.1,1836.49 L858.18,1835.25 L866.25,1834.02 L874.32,1832.8 L882.39,1831.58 L890.46,1830.37 L898.54,1829.17 L906.61,1827.98 L914.68,1826.8 L922.75,1825.63 L930.82,1824.46 L938.9,1823.3 L946.97,1822.15 L955.04,1821.01 L963.11,1819.87 L971.18,1818.75 L979.25,1817.63 L987.33,1816.52 L995.4,1815.42 L1003.47,1814.32 L1011.54,1813.24 L1019.61,1812.16 L1027.69,1811.09 L1035.76,1810.03 L1043.83,1808.97 L1051.9,1807.93 L1059.97,1806.89 L1068.04,1805.86 L1076.12,1804.84 L1084.19,1803.83 L1092.26,1802.82 L1100.33,1801.83 L1108.4,1800.84 L1116.48,1799.86 L1124.55,1798.89 L1132.62,1797.92 L1140.69,1796.96 L1148.76,1796.02 L1156.84,1795.08 L1164.91,1794.14 L1172.98,1793.22 L1181.05,1792.3 L1189.12,1791.4 L1197.19,1790.5 L1205.27,1789.6 L1213.34,1788.72 L1221.41,1787.84 L1229.48,1786.98 L1237.55,1786.12 L1245.63,1785.26 L1253.7,1784.42 L1261.77,1783.58 L1269.84,1782.76 L1277.91,1781.94 L1285.99,1781.13 L1294.06,1780.32 L1302.13,1779.53 L1310.2,1778.74 L1318.27,1777.96 L1326.34,1777.19 L1334.42,1776.43 L1342.49,1775.67 L1350.56,1774.92 L1358.63,1774.18 L1366.7,1773.45 L1374.78,1772.73 L1382.85,1772.01 L1390.92,1771.31 L1398.99,1770.61 L1407.06,1769.92 L1415.13,1769.23 L1423.21,1768.56 L1431.28,1767.89 L1439.35,1767.23 L1447.42,1766.58 L1455.49,1765.94 L1463.57,1765.3 L1471.64,1764.67 L1479.71,1764.05 L1487.78,1763.44 L1495.85,1762.84 L1503.93,1762.24 L1512,1761.66 L1520.07,1761.08 L1528.14,1760.5 L1536.21,1759.94 L1544.28,1759.39 L1552.36,1758.84 L1560.43,1758.3 L1568.5,1757.77" fill="none" stroke="#0788d1" stroke-width="9.8" stroke-linecap="round" stroke-linejoin="round"/>
<path d="M400,2671.3 L406.05,2671.21 L412.1,2671.13 L418.15,2671.05 L424.2,2670.97 L430.25,2670.9 L436.3,2670.83 L442.35,2670.75 L448.4,2670.68 L454.44,2670.62 L460.49,2670.55 L466.53,2670.49 L472.58,2670.42 L478.62,2670.36 L484.67,2670.3 L490.71,2670.24 L496.75,2670.18 L502.79,2670.13 L508.83,2670.07 L514.87,2670.02 L520.91,2669.96 L526.95,2669.91 L532.99,2669.86 L539.03,2669.8 L545.07,2669.75 L551.1,2669.7 L557.14,2669.65 L563.17,2669.6 L569.21,2669.55 L575.24,2669.49 L581.28,2669.44 L587.31,2669.39 L593.34,2669.34 L599.37,2669.29 L605.4,2669.24 L611.43,2669.18 L617.46,2669.13 L623.49,2669.07 L629.52,2669.02 L635.55,2668.96 L641.58,2668.91 L647.61,2668.85 L653.63,2668.79 L659.66,2668.73 L665.69,2668.67 L671.71,2668.6 L677.74,2668.54 L683.76,2668.47 L689.78,2668.4 L695.81,2668.34 L701.83,2668.26 L707.85,2668.19 L713.88,2668.12 L719.9,2668.04 L725.92,2667.96 L731.94,2667.88 L737.96,2667.79 L743.98,2667.71 L750,2667.62 L756.02,2667.53 L762.03,2667.43 L768.05,2667.33 L774.07,2667.23 L780.09,2667.13 L786.1,2667.02 L792.12,2666.92 L798.14,2666.8 L804.15,2666.69 L810.17,2666.57 L816.18,2666.45 L822.2,2666.32 L828.21,2666.19 L834.22,2666.06 L840.24,2665.92 L846.25,2665.78 L852.26,2665.63 L858.28,2665.48 L864.29,2665.33 L870.3,2665.17 L876.31,2665.01 L882.32,2664.84 L888.33,2664.67 L894.34,2664.5 L900.35,2664.32 L906.36,2664.13 L912.37,2663.94 L918.38,2663.75 L924.39,2663.55 L930.4,2663.34 L936.41,2663.13 L942.41,2662.91 L948.42,2662.69 L954.43,2662.47 L960.44,2662.24 L966.44,2662 L972.45,2661.75 L978.46,2661.5 L984.46,2661.25 L990.47,2660.99 L996.47,2660.72 L1002.48,2660.45 L1008.49,2660.17 L1014.49,2659.88 L1020.5,2659.59 L1026.5,2659.29 L1032.51,2658.99 L1038.51,2658.67 L1044.51,2658.35 L1050.52,2658.03 L1056.52,2657.7 L1062.53,2657.36 L1068.53,2657.01 L1074.53,2656.65 L1080.53,2656.29 L1086.54,2655.92 L1092.54,2655.55 L1098.54,2655.16 L1104.55,2654.77 L1110.55,2654.37 L1116.55,2653.97 L1122.55,2653.55 L1128.56,2653.13 L1134.56,2652.7 L1140.56,2652.26 L1146.56,2651.81 L1152.56,2651.35 L1158.56,2650.89 L1164.57,2650.42 L1170.57,2649.94 L1176.57,2649.45 L1182.57,2648.95 L1188.57,2648.44 L1194.57,2647.92 L1200.57,2647.4 L1206.57,2646.86 L1212.58,2646.32 L1218.58,2645.77 L1224.58,2645.2 L1230.58,2644.63 L1236.58,2644.05 L1242.58,2643.46 L1248.58,2642.86 L1254.58,2642.25 L1260.58,2641.62 L1266.58,2640.99 L1272.59,2640.35 L1278.59,2639.7 L1284.59,2639.04 L1290.59,2638.37 L1296.59,2637.69 L1302.59,2636.99 L1308.59,2636.29 L1314.59,2635.58 L1320.59,2634.85 L1326.6,2634.12 L1332.6,2633.37 L1338.6,2632.61 L1344.6,2631.85 L1350.6,2631.07 L1356.6,2630.28 L1362.61,2629.47 L1368.61,2628.66 L1374.61,2627.83 L1380.61,2627 L1386.61,2626.15 L1392.62,2625.29 L1398.62,2624.42 L1404.62,2623.53 L1410.62,2622.63 L1416.63,2621.73 L1422.63,2620.8 L1428.63,2619.87 L1434.64,2618.93 L1440.64,2617.97 L1446.64,2617 L1452.65,2616.01 L1458.65,2615.02 L1464.65,2614.01 L1470.66,2612.99 L1476.66,2611.95 L1482.67,2610.9 L1488.67,2609.84 L1494.68,2608.76 L1500.68,2607.67 L1506.67,2606.56 L1512.67,2605.42 L1518.65,2604.26 L1524.63,2603.08 L1530.6,2601.87 L1536.56,2600.63 L1542.51,2599.37 L1548.45,2598.06 L1554.37,2596.73 L1560.28,2595.36 L1566.17,2593.95 L1572.05,2592.5 L1577.9,2591.01 L1583.74,2589.47 L1589.56,2587.89 L1595.35,2586.26 L1601.12,2584.58 L1606.87,2582.85 L1612.59,2581.07 L1618.28,2579.23 L1623.94,2577.34 L1629.58,2575.38 L1635.18,2573.37 L1640.76,2571.29 L1646.29,2569.14 L1651.8,2566.93 L1657.27,2564.66 L1662.7,2562.31 L1668.09,2559.89 L1673.45,2557.39 L1678.76,2554.82 L1684.03,2552.17 L1689.26,2549.44 L1694.44,2546.63 L1699.58,2543.74 L1704.67,2540.76 L1709.72,2537.69 L1714.71,2534.53 L1719.66,2531.29 L1724.55,2527.95 L1729.39,2524.53 L1734.18,2521.02 L1738.91,2517.42 L1743.59,2513.75 L1748.22,2509.99 L1752.78,2506.15 L1757.3,2502.23 L1761.75,2498.24 L1766.14,2494.17 L1770.48,2490.03 L1774.76,2485.82 L1778.97,2481.54 L1783.12,2477.19 L1787.22,2472.77 L1791.24,2468.29 L1795.21,2463.74 L1799.11,2459.13 L1802.94,2454.46 L1806.7,2449.73 L1810.4,2444.94 L1814.04,2440.1 L1817.6,2435.21 L1821.1,2430.26 L1824.53,2425.26 L1827.9,2420.21 L1831.21,2415.12 L1834.46,2409.98 L1837.65,2404.8 L1840.78,2399.58 L1843.86,2394.32 L1846.88,2389.03 L1849.86,2383.7 L1852.78,2378.34 L1855.66,2372.95 L1858.48,2367.54 L1861.27,2362.09 L1864.01,2356.63 L1866.7,2351.14 L1869.36,2345.63 L1871.98,2340.1 L1874.55,2334.56 L1877.1,2329 L1879.61,2323.43 L1882.09,2317.85 L1884.53,2312.27 L1886.95,2306.68 L1889.34,2301.08 L1891.7,2295.48 L1894.04,2289.88 L1896.35,2284.29 L1898.65,2278.7 L1900.92,2273.11 L1903.18,2267.53 L1905.41,2261.97 L1907.64,2256.41 L1909.85,2250.87 L1912.05,2245.35 L1914.24,2239.85 L1916.42,2234.36 L1918.59,2228.9 L1920.76,2223.46 L1922.92,2218.05 L1925.08,2212.66 L1927.24,2207.31 L1929.4,2201.99" fill="none" stroke="#0788d1" stroke-width="9.8" stroke-linejoin="round" stroke-linecap="round"/>
<path d="M760.77,326.46 L759.65,332.47 L758.53,338.48 L757.43,344.49 L756.34,350.5 L755.26,356.52 L754.2,362.53 L753.14,368.55 L752.1,374.58 L751.07,380.6 L750.06,386.63 L749.05,392.66 L748.07,398.69 L747.09,404.73 L746.13,410.77 L745.19,416.81 L744.26,422.85 L743.34,428.89 L742.44,434.94 L741.56,440.99 L740.7,447.04 L739.85,453.09 L739.02,459.15 L738.2,465.21 L737.41,471.27 L736.63,477.33 L735.87,483.39 L735.13,489.46 L734.41,495.53 L733.71,501.6 L733.02,507.67 L732.36,513.74 L731.72,519.82 L731.1,525.89 L730.5,531.97 L729.92,538.06 L729.37,544.14 L728.83,550.22 L728.32,556.31 L727.83,562.4 L727.37,568.49 L726.93,574.58 L726.51,580.67 L726.11,586.77 L725.74,592.87 L725.4,598.96 L725.08,605.06 L724.79,611.16 L724.52,617.27 L724.28,623.37 L724.06,629.48 L723.87,635.58 L723.71,641.69 L723.58,647.8 L723.47,653.91 L723.39,660.03 L723.35,666.14 L723.33,672.26 L723.33,678.37 L723.37,684.49 L723.44,690.61 L723.54,696.73 L723.67,702.85 L723.83,708.97 L724.02,715.1 L724.24,721.22" fill="none" stroke="#1c1a1b" stroke-width="3.3" stroke-linejoin="round" stroke-dasharray="11 3" stroke-linecap="butt"/>
<path d="M940.45,359.92 L939.08,365.89 L937.73,371.87 L936.41,377.86 L935.12,383.86 L933.86,389.86 L932.63,395.87 L931.43,401.88 L930.26,407.9 L929.12,413.92 L928.01,419.95 L926.92,425.98 L925.87,432.02 L924.85,438.06 L923.85,444.11 L922.89,450.16 L921.96,456.22 L921.05,462.28 L920.18,468.35 L919.33,474.42 L918.52,480.49 L917.74,486.57 L916.98,492.65 L916.26,498.73 L915.56,504.82 L914.9,510.91 L914.27,517.01 L913.66,523.1 L913.09,529.2 L912.55,535.3 L912.04,541.41 L911.55,547.52 L911.1,553.63 L910.68,559.74 L910.29,565.85 L909.93,571.97 L909.6,578.08 L909.3,584.2 L909.04,590.32 L908.8,596.44 L908.59,602.57 L908.42,608.69 L908.27,614.82 L908.16,620.94 L908.08,627.07 L908.03,633.19 L908,639.32 L908.01,645.45 L908.06,651.57 L908.13,657.7 L908.23,663.83 L908.37,669.95 L908.53,676.08 L908.73,682.2 L908.96,688.33 L909.22,694.45 L909.51,700.57 L909.83,706.69 L910.19,712.81 L910.57,718.93 L910.99,725.05 L911.44,731.16 L911.92,737.27 L912.44,743.39 L912.98,749.49 L913.56,755.6 L914.16,761.7 L914.8,767.81 L915.47,773.91" fill="none" stroke="#1c1a1b" stroke-width="3.3" stroke-linejoin="round" stroke-dasharray="19 2.8" stroke-linecap="butt"/>
<path d="M1120.42,403.17 L1119.61,408.71 L1118.74,414.3 L1117.81,419.93 L1116.83,425.61 L1115.81,431.33 L1114.76,437.08 L1113.67,442.88 L1112.56,448.71 L1111.44,454.58 L1110.3,460.48 L1109.15,466.41 L1108,472.37 L1106.86,478.37 L1105.73,484.39 L1104.61,490.44 L1103.52,496.51 L1102.45,502.61 L1101.42,508.73 L1100.44,514.88 L1099.49,521.04 L1098.6,527.22 L1097.77,533.41 L1097,539.62 L1096.3,545.85 L1095.68,552.08 L1095.14,558.33 L1094.68,564.58 L1094.32,570.83 L1094.05,577.08 L1093.88,583.32 L1093.81,589.54 L1093.85,595.75 L1094.01,601.93 L1094.29,608.09 L1094.68,614.21 L1095.21,620.3 L1095.87,626.34 L1096.66,632.34 L1097.6,638.29 L1098.69,644.19 L1099.92,650.02 L1101.32,655.79 L1102.87,661.49 L1104.59,667.12 L1106.47,672.67 L1108.53,678.15 L1110.75,683.54 L1113.14,688.85 L1115.68,694.09 L1118.37,699.24 L1121.21,704.32 L1124.2,709.33 L1127.33,714.25 L1130.59,719.1 L1133.99,723.88 L1137.52,728.58 L1141.17,733.2 L1144.94,737.76 L1148.83,742.23 L1152.82,746.64 L1156.93,750.97 L1161.14,755.23 L1165.45,759.41 L1169.86,763.53 L1174.35,767.57 L1178.94,771.55 L1183.6,775.45 L1188.35,779.28 L1193.17,783.05 L1198.06,786.74 L1203.02,790.37 L1208.04,793.93 L1213.12,797.42 L1218.25,800.84 L1223.43,804.2 L1228.66,807.49 L1233.93,810.72 L1239.24,813.88 L1244.59,816.98 L1249.96,820.01 L1255.36,822.97 L1260.78,825.88 L1266.22,828.72 L1271.68,831.5 L1277.15,834.21 L1282.65,836.86 L1288.17,839.45 L1293.71,841.98 L1299.27,844.44 L1304.84,846.85 L1310.44,849.18 L1316.05,851.46 L1321.68,853.68 L1327.33,855.83 L1333,857.92 L1338.69,859.95 L1344.4,861.92 L1350.12,863.82 L1355.86,865.67 L1361.62,867.45 L1367.4,869.17 L1373.19,870.84 L1379.01,872.44 L1384.84,873.98 L1390.68,875.45 L1396.55,876.87 L1402.43,878.23 L1408.33,879.53 L1414.24,880.76 L1420.17,881.94 L1426.12,883.06 L1432.09,884.11 L1438.07,885.11 L1444.06,886.05 L1450.08,886.93 L1456.1,887.74 L1462.15,888.5 L1468.21,889.2 L1474.28,889.84 L1480.38,890.43 L1486.48,890.94 L1492.59,891.4 L1498.71,891.79 L1504.84,892.11 L1510.97,892.36 L1517.11,892.53 L1523.24,892.63 L1529.37,892.64 L1535.49,892.58 L1541.6,892.43 L1547.7,892.19 L1553.79,891.87 L1559.86,891.45 L1565.92,890.94 L1571.95,890.33 L1577.97,889.62 L1583.95,888.81 L1589.91,887.89 L1595.84,886.87 L1601.74,885.73 L1607.6,884.48 L1613.42,883.12 L1619.21,881.64 L1624.95,880.04 L1630.65,878.32 L1636.3,876.47 L1641.9,874.49 L1647.45,872.39 L1652.95,870.15 L1658.39,867.77 L1663.77,865.26 L1669.1,862.62 L1674.37,859.86 L1679.58,856.97 L1684.73,853.95 L1689.82,850.82 L1694.85,847.57 L1699.82,844.21 L1704.73,840.75 L1709.57,837.17 L1714.36,833.49 L1719.08,829.72 L1723.74,825.84 L1728.34,821.88 L1732.88,817.82 L1737.35,813.67 L1741.75,809.44 L1746.09,805.13 L1750.37,800.74 L1754.58,796.28 L1758.72,791.74 L1762.8,787.14 L1766.81,782.46 L1770.75,777.73 L1774.63,772.94 L1778.44,768.09 L1782.17,763.18 L1785.84,758.23 L1789.44,753.23 L1792.97,748.18 L1796.42,743.1 L1799.81,737.97 L1803.13,732.81 L1806.37,727.62 L1809.55,722.41 L1812.67,717.17 L1815.71,711.91 L1818.7,706.63 L1821.61,701.34 L1824.47,696.04 L1827.26,690.73 L1829.99,685.42 L1832.66,680.12 L1835.27,674.81 L1837.82,669.52 L1840.31,664.23" fill="none" stroke="#1c1a1b" stroke-width="3.3" stroke-linejoin="round" stroke-dasharray="19 2.8" stroke-linecap="butt"/>
<path d="M1301.35,454.13 L1300.16,459.25 L1299.04,464.65 L1298,470.28 L1297.04,476.14 L1296.2,482.17 L1295.47,488.36 L1294.89,494.67 L1294.45,501.08 L1294.19,507.54 L1294.11,514.04 L1294.22,520.55 L1294.55,527.02 L1295.12,533.44 L1295.92,539.77 L1296.99,545.98 L1298.33,552.05 L1299.96,557.93 L1301.9,563.61 L1304.15,569.05 L1306.75,574.22 L1309.69,579.09 L1312.97,583.68 L1316.56,588.01 L1320.44,592.08 L1324.6,595.93 L1329.01,599.56 L1333.66,603 L1338.51,606.26 L1343.56,609.36 L1348.78,612.32 L1354.15,615.16 L1359.64,617.9 L1365.25,620.55 L1370.95,623.13 L1376.72,625.67 L1382.53,628.17 L1388.37,630.67 L1394.22,633.16 L1400.07,635.66 L1405.93,638.16 L1411.78,640.64 L1417.63,643.1 L1423.49,645.53 L1429.35,647.92 L1435.2,650.26 L1441.06,652.53 L1446.92,654.74 L1452.78,656.88 L1458.64,658.93 L1464.5,660.88 L1470.36,662.73 L1476.23,664.46 L1482.09,666.07 L1487.96,667.55 L1493.82,668.89 L1499.69,670.08 L1505.56,671.11 L1511.42,671.97 L1517.29,672.65 L1523.16,673.15 L1529.03,673.45 L1534.9,673.55 L1540.77,673.43 L1546.65,673.1 L1552.52,672.53 L1558.39,671.71 L1564.27,670.65 L1570.13,669.33 L1575.95,667.75 L1581.72,665.91 L1587.4,663.79 L1592.99,661.39 L1598.45,658.71 L1603.76,655.74 L1608.91,652.47 L1613.86,648.91 L1618.6,645.04 L1623.11,640.87 L1627.35,636.37 L1631.32,631.56 L1634.99,626.43 L1638.41,621.05 L1641.63,615.51 L1644.72,609.91 L1647.74,604.33 L1650.75,598.87 L1653.82,593.62 L1657.01,588.67 L1660.38,584.13" fill="none" stroke="#1c1a1b" stroke-width="3.3" stroke-linejoin="round" stroke-dasharray="19 2.8" stroke-linecap="butt"/>
<circle cx="760.4" cy="326.4" r="5.2" fill="#1c1a1b"/>
<circle cx="940.3" cy="359.9" r="5.2" fill="#1c1a1b"/>
<circle cx="1120.5" cy="402.3" r="5.2" fill="#1c1a1b"/>
<circle cx="1301" cy="453.6" r="5.2" fill="#1c1a1b"/>
<circle cx="1467.1" cy="548.9" r="5.2" fill="#1c1a1b"/>
<circle cx="1660.7" cy="584.5" r="5.2" fill="#1c1a1b"/>
<circle cx="1436.2" cy="649.9" r="5.2" fill="#1c1a1b"/>
<circle cx="1841.2" cy="664.4" r="5.2" fill="#1c1a1b"/>
<circle cx="1390.8" cy="756.7" r="5.2" fill="#1c1a1b"/>
<circle cx="1345.6" cy="925.9" r="5.2" fill="#1c1a1b"/>
<text x="72.37" y="126.92" font-size="59.89" textLength="228.67" lengthAdjust="spacingAndGlyphs" font-weight="normal" fill="#1c1a1b" stroke="#1c1a1b" stroke-width="1.0">U.S.g.p.m.</text>
<text x="78.42" y="229.19" font-size="59.11" textLength="229.73" lengthAdjust="spacingAndGlyphs" font-weight="normal" fill="#1c1a1b" stroke="#1c1a1b" stroke-width="1.0">Imp.g.p.m.</text>
<text x="604.68" y="121.58" font-size="52.25" textLength="47.73" lengthAdjust="spacingAndGlyphs" font-weight="normal" fill="#1c1a1b" stroke="#1c1a1b" stroke-width="1.0">36</text>
<text x="1019.84" y="122.1" font-size="53" textLength="48.13" lengthAdjust="spacingAndGlyphs" font-weight="normal" fill="#1c1a1b" stroke="#1c1a1b" stroke-width="1.0">72</text>
<text x="1419.43" y="121.1" font-size="49.58" textLength="68.36" lengthAdjust="spacingAndGlyphs" font-weight="normal" fill="#1c1a1b" stroke="#1c1a1b" stroke-width="1.0">108</text>
<text x="1826.37" y="121.6" font-size="51.01" textLength="74.01" lengthAdjust="spacingAndGlyphs" font-weight="normal" fill="#1c1a1b" stroke="#1c1a1b" stroke-width="1.0">144</text>
<text x="687.48" y="214.3" font-size="50" textLength="47.73" lengthAdjust="spacingAndGlyphs" font-weight="normal" fill="#1c1a1b" stroke="#1c1a1b" stroke-width="1.0">36</text>
<text x="1180.5" y="215.9" font-size="51.14" textLength="49.01" lengthAdjust="spacingAndGlyphs" font-weight="normal" fill="#1c1a1b" stroke="#1c1a1b" stroke-width="1.0">72</text>
<text x="1636.2" y="215.4" font-size="50.42" textLength="68.89" lengthAdjust="spacingAndGlyphs" font-weight="normal" fill="#1c1a1b" stroke="#1c1a1b" stroke-width="1.0">108</text>
<text x="140.22" y="373.59" font-size="50.56" textLength="43.95" lengthAdjust="spacingAndGlyphs" font-weight="normal" fill="#1c1a1b" stroke="#1c1a1b" stroke-width="1.0">90</text>
<text x="140.22" y="474.79" font-size="50.85" textLength="43.95" lengthAdjust="spacingAndGlyphs" font-weight="normal" fill="#1c1a1b" stroke="#1c1a1b" stroke-width="1.0">80</text>
<text x="140.11" y="573.1" font-size="50.14" textLength="46.45" lengthAdjust="spacingAndGlyphs" font-weight="normal" fill="#1c1a1b" stroke="#1c1a1b" stroke-width="1.0">70</text>
<text x="140.11" y="673.52" font-size="48.31" textLength="46.45" lengthAdjust="spacingAndGlyphs" font-weight="normal" fill="#1c1a1b" stroke="#1c1a1b" stroke-width="1.0">60</text>
<text x="140.55" y="774.31" font-size="49.3" textLength="46" lengthAdjust="spacingAndGlyphs" font-weight="normal" fill="#1c1a1b" stroke="#1c1a1b" stroke-width="1.0">50</text>
<text x="141.36" y="875.91" font-size="49.3" textLength="46.81" lengthAdjust="spacingAndGlyphs" font-weight="normal" fill="#1c1a1b" stroke="#1c1a1b" stroke-width="1.0">40</text>
<text x="140.55" y="975.91" font-size="49.15" textLength="46" lengthAdjust="spacingAndGlyphs" font-weight="normal" fill="#1c1a1b" stroke="#1c1a1b" stroke-width="1.0">30</text>
<text x="140.11" y="1074.53" font-size="47.04" textLength="46.45" lengthAdjust="spacingAndGlyphs" font-weight="normal" fill="#1c1a1b" stroke="#1c1a1b" stroke-width="1.0">20</text>
<text x="139.57" y="1174.61" font-size="49.15" textLength="38.93" lengthAdjust="spacingAndGlyphs" font-weight="normal" fill="#1c1a1b" stroke="#1c1a1b" stroke-width="1.0">10</text>
<text x="2055.66" y="328.38" font-size="51.69" textLength="72.51" lengthAdjust="spacingAndGlyphs" font-weight="normal" fill="#1c1a1b" stroke="#1c1a1b" stroke-width="1.0">300</text>
<text x="2055.21" y="486.49" font-size="51.13" textLength="72.97" lengthAdjust="spacingAndGlyphs" font-weight="normal" fill="#1c1a1b" stroke="#1c1a1b" stroke-width="1.0">250</text>
<text x="2055.21" y="645.28" font-size="51.69" textLength="72.97" lengthAdjust="spacingAndGlyphs" font-weight="normal" fill="#1c1a1b" stroke="#1c1a1b" stroke-width="1.0">200</text>
<text x="2049.56" y="802.68" font-size="51.69" textLength="65.45" lengthAdjust="spacingAndGlyphs" font-weight="normal" fill="#1c1a1b" stroke="#1c1a1b" stroke-width="1.0">150</text>
<text x="2052.36" y="956.7" font-size="50" textLength="65.35" lengthAdjust="spacingAndGlyphs" font-weight="normal" fill="#1c1a1b" stroke="#1c1a1b" stroke-width="1.0">100</text>
<text x="2060.33" y="1114.6" font-size="49.86" textLength="46.54" lengthAdjust="spacingAndGlyphs" font-weight="normal" fill="#1c1a1b" stroke="#1c1a1b" stroke-width="1.0">50</text>
<text x="763.58" y="316.12" font-size="38.03" textLength="39.96" lengthAdjust="spacingAndGlyphs" font-weight="normal" fill="#1c1a1b" stroke="#1c1a1b" stroke-width="1.0">40</text>
<text x="943.38" y="337.11" font-size="39.44" textLength="39.37" lengthAdjust="spacingAndGlyphs" font-weight="normal" fill="#1c1a1b" stroke="#1c1a1b" stroke-width="1.0">52</text>
<text x="1122.5" y="392.42" font-size="38.03" textLength="38.88" lengthAdjust="spacingAndGlyphs" font-weight="normal" fill="#1c1a1b" stroke="#1c1a1b" stroke-width="1.0">56</text>
<text x="1302.68" y="443.22" font-size="37.89" textLength="38.31" lengthAdjust="spacingAndGlyphs" font-weight="normal" fill="#1c1a1b" stroke="#1c1a1b" stroke-width="1.0">60</text>
<text x="1482.79" y="491.71" font-size="39.44" textLength="40.2" lengthAdjust="spacingAndGlyphs" font-weight="normal" fill="#1c1a1b" stroke="#1c1a1b" stroke-width="1.0">62</text>
<text x="1436.2" y="588.72" font-size="38.03" textLength="35.51" lengthAdjust="spacingAndGlyphs" font-weight="normal" fill="#1c1a1b" stroke="#1c1a1b" stroke-width="1.0">61</text>
<text x="1661.92" y="573.41" font-size="39.44" textLength="39.5" lengthAdjust="spacingAndGlyphs" font-weight="normal" fill="#1c1a1b" stroke="#1c1a1b" stroke-width="1.0">60</text>
<text x="1438.52" y="640.61" font-size="39.44" textLength="39.5" lengthAdjust="spacingAndGlyphs" font-weight="normal" fill="#1c1a1b" stroke="#1c1a1b" stroke-width="1.0">60</text>
<text x="1843.89" y="641.72" font-size="38.45" textLength="39.31" lengthAdjust="spacingAndGlyphs" font-weight="normal" fill="#1c1a1b" stroke="#1c1a1b" stroke-width="1.0">56</text>
<text x="1392.77" y="742.31" font-size="39.44" textLength="39.74" lengthAdjust="spacingAndGlyphs" font-weight="normal" fill="#1c1a1b" stroke="#1c1a1b" stroke-width="1.0">58</text>
<text x="1348.06" y="903.9" font-size="40" textLength="40.17" lengthAdjust="spacingAndGlyphs" font-weight="normal" fill="#1c1a1b" stroke="#1c1a1b" stroke-width="1.0">55</text>
<text x="148.3" y="1467.2" font-size="51.14" textLength="41.56" lengthAdjust="spacingAndGlyphs" font-weight="normal" fill="#1c1a1b" stroke="#1c1a1b" stroke-width="1.0">12</text>
<text x="149.39" y="1622.51" font-size="48.87" textLength="22.37" lengthAdjust="spacingAndGlyphs" font-weight="normal" fill="#1c1a1b" stroke="#1c1a1b" stroke-width="1.0">9</text>
<text x="149.19" y="1776.26" font-size="43.94" textLength="22.37" lengthAdjust="spacingAndGlyphs" font-weight="normal" fill="#1c1a1b" stroke="#1c1a1b" stroke-width="1.0">6</text>
<text x="151.89" y="1928.9" font-size="50.42" textLength="22.36" lengthAdjust="spacingAndGlyphs" font-weight="normal" fill="#1c1a1b" stroke="#1c1a1b" stroke-width="1.0">3</text>
<text x="146.67" y="2087.5" font-size="49.72" textLength="21.32" lengthAdjust="spacingAndGlyphs" font-weight="normal" fill="#1c1a1b" stroke="#1c1a1b" stroke-width="1.0">0</text>
<text x="2059.74" y="1387.8" font-size="50.14" textLength="40.92" lengthAdjust="spacingAndGlyphs" font-weight="normal" fill="#1c1a1b" stroke="#1c1a1b" stroke-width="1.0">18</text>
<text x="2059.74" y="1503.79" font-size="50.86" textLength="40.92" lengthAdjust="spacingAndGlyphs" font-weight="normal" fill="#1c1a1b" stroke="#1c1a1b" stroke-width="1.0">15</text>
<text x="2065.51" y="1621" font-size="50.71" textLength="41.33" lengthAdjust="spacingAndGlyphs" font-weight="normal" fill="#1c1a1b" stroke="#1c1a1b" stroke-width="1.0">12</text>
<text x="2066.05" y="1735.93" font-size="46.62" textLength="21.65" lengthAdjust="spacingAndGlyphs" font-weight="normal" fill="#1c1a1b" stroke="#1c1a1b" stroke-width="1.0">9</text>
<text x="2065.85" y="1852.75" font-size="44.65" textLength="21.65" lengthAdjust="spacingAndGlyphs" font-weight="normal" fill="#1c1a1b" stroke="#1c1a1b" stroke-width="1.0">6</text>
<text x="2066.28" y="1970.03" font-size="46.62" textLength="21.19" lengthAdjust="spacingAndGlyphs" font-weight="normal" fill="#1c1a1b" stroke="#1c1a1b" stroke-width="1.0">3</text>
<text x="150.21" y="2223" font-size="49.58" textLength="22.13" lengthAdjust="spacingAndGlyphs" font-weight="normal" fill="#1c1a1b" stroke="#1c1a1b" stroke-width="1.0">6</text>
<text x="135.94" y="2354.61" font-size="49.43" textLength="59.68" lengthAdjust="spacingAndGlyphs" font-weight="normal" fill="#1c1a1b" stroke="#1c1a1b" stroke-width="1.0">4.5</text>
<text x="148.27" y="2486" font-size="49.86" textLength="22.6" lengthAdjust="spacingAndGlyphs" font-weight="normal" fill="#1c1a1b" stroke="#1c1a1b" stroke-width="1.0">3</text>
<text x="129.69" y="2631.1" font-size="50.43" textLength="52.01" lengthAdjust="spacingAndGlyphs" font-weight="normal" fill="#1c1a1b" stroke="#1c1a1b" stroke-width="1.0">1.5</text>
<text x="170.39" y="2826.16" font-size="53.8" textLength="22.36" lengthAdjust="spacingAndGlyphs" font-weight="normal" fill="#1c1a1b" stroke="#1c1a1b" stroke-width="1.0">0</text>
<text x="2053.14" y="2351.41" font-size="49.14" textLength="39.46" lengthAdjust="spacingAndGlyphs" font-weight="normal" fill="#1c1a1b" stroke="#1c1a1b" stroke-width="1.0">15</text>
<text x="2055.31" y="2568.6" font-size="50.43" textLength="55.39" lengthAdjust="spacingAndGlyphs" font-weight="normal" fill="#1c1a1b" stroke="#1c1a1b" stroke-width="1.0">7.5</text>
<text x="2030.38" y="2833.83" font-size="47.19" textLength="33.27" lengthAdjust="spacingAndGlyphs" font-weight="normal" fill="#1c1a1b" stroke="#1c1a1b" stroke-width="1.0">Q</text>
<text x="2087.62" y="2842.2" font-size="60" textLength="26.25" lengthAdjust="spacingAndGlyphs" font-weight="normal" fill="#1c1a1b" stroke="#1c1a1b" stroke-width="1.0">L</text>
<text x="2121.6" y="2841.64" font-size="56.33" textLength="20.34" lengthAdjust="spacingAndGlyphs" font-weight="normal" fill="#1c1a1b" stroke="#1c1a1b" stroke-width="1.0">/</text>
<text x="2147.96" y="2842.2" font-size="60" textLength="17.39" lengthAdjust="spacingAndGlyphs" font-weight="normal" fill="#1c1a1b" stroke="#1c1a1b" stroke-width="1.0">1</text>
<text x="2165.37" y="2836.68" font-size="52" textLength="16.84" lengthAdjust="spacingAndGlyphs" font-weight="normal" fill="#1c1a1b" stroke="#1c1a1b" stroke-width="1.0">’</text>
<text x="2019.48" y="2938.53" font-size="47.19" textLength="33.27" lengthAdjust="spacingAndGlyphs" font-weight="normal" fill="#1c1a1b" stroke="#1c1a1b" stroke-width="1.0">Q</text>
<text x="2077.84" y="2947.5" font-size="53.52" textLength="34.15" lengthAdjust="spacingAndGlyphs" font-weight="normal" fill="#1c1a1b" stroke="#1c1a1b" stroke-width="1.0">m</text>
<text x="2117.28" y="2917.46" font-size="33.52" textLength="16.98" lengthAdjust="spacingAndGlyphs" font-weight="normal" fill="#1c1a1b" stroke="#1c1a1b" stroke-width="1.0">3</text>
<text x="2141.9" y="2946.94" font-size="56.33" textLength="19.74" lengthAdjust="spacingAndGlyphs" font-weight="normal" fill="#1c1a1b" stroke="#1c1a1b" stroke-width="1.0">/</text>
<text x="2167.07" y="2947.5" font-size="57.93" textLength="27.28" lengthAdjust="spacingAndGlyphs" font-weight="normal" fill="#1c1a1b" stroke="#1c1a1b" stroke-width="1.0">h</text>
<text x="655.96" y="2945.73" font-size="47.18" textLength="21.53" lengthAdjust="spacingAndGlyphs" font-weight="normal" fill="#1c1a1b" stroke="#1c1a1b" stroke-width="1.0">9</text>
<text x="1101.35" y="2945.52" font-size="47.75" textLength="39.35" lengthAdjust="spacingAndGlyphs" font-weight="normal" fill="#1c1a1b" stroke="#1c1a1b" stroke-width="1.0">18</text>
<text x="1551.28" y="2946" font-size="48.43" textLength="47.25" lengthAdjust="spacingAndGlyphs" font-weight="normal" fill="#1c1a1b" stroke="#1c1a1b" stroke-width="1.0">27</text>
<text x="268.37" y="374.05" font-size="49.58" textLength="114.5" lengthAdjust="spacingAndGlyphs" font-weight="normal" fill="#1c1a1b" stroke="#1c1a1b" stroke-width="1.1">180A</text>
<text x="268.39" y="483.05" font-size="49.58" textLength="114.03" lengthAdjust="spacingAndGlyphs" font-weight="normal" fill="#1c1a1b" stroke="#1c1a1b" stroke-width="1.1">180B</text>
<text x="269.45" y="598.55" font-size="49.72" textLength="118.07" lengthAdjust="spacingAndGlyphs" font-weight="normal" fill="#1c1a1b" stroke="#1c1a1b" stroke-width="1.1">180C</text>
<text x="272.38" y="721.24" font-size="50.99" textLength="117.11" lengthAdjust="spacingAndGlyphs" font-weight="normal" fill="#1c1a1b" stroke="#1c1a1b" stroke-width="1.1">180D</text>
<text x="1857.48" y="797.67" font-size="48.31" textLength="115.5" lengthAdjust="spacingAndGlyphs" font-weight="normal" fill="#1c1a1b" stroke="#1c1a1b" stroke-width="1.1">200A</text>
<text x="1869.99" y="1398.04" font-size="50.99" textLength="114.99" lengthAdjust="spacingAndGlyphs" font-weight="normal" fill="#1c1a1b" stroke="#1c1a1b" stroke-width="1.1">200A</text>
<text x="1869.65" y="1483.52" font-size="52.96" textLength="115.33" lengthAdjust="spacingAndGlyphs" font-weight="normal" fill="#1c1a1b" stroke="#1c1a1b" stroke-width="1.1">180A</text>
<text x="1873.28" y="1582.63" font-size="51.69" textLength="114.14" lengthAdjust="spacingAndGlyphs" font-weight="normal" fill="#1c1a1b" stroke="#1c1a1b" stroke-width="1.1">180B</text>
<text x="1874.15" y="1698.04" font-size="50.85" textLength="118.07" lengthAdjust="spacingAndGlyphs" font-weight="normal" fill="#1c1a1b" stroke="#1c1a1b" stroke-width="1.1">180C</text>
<text x="1592.41" y="1775.34" font-size="50.85" textLength="116.06" lengthAdjust="spacingAndGlyphs" font-weight="normal" fill="#1c1a1b" stroke="#1c1a1b" stroke-width="1.1">180D</text>
<text x="357.87" y="2838.06" font-size="49.44" textLength="57.41" lengthAdjust="spacingAndGlyphs" font-weight="normal" fill="#1c1a1b" stroke="#1c1a1b" stroke-width="1.1">60</text>
<text x="536.16" y="2838.06" font-size="49.44" textLength="82.08" lengthAdjust="spacingAndGlyphs" font-weight="normal" fill="#1c1a1b" stroke="#1c1a1b" stroke-width="1.1">120</text>
<text x="716.1" y="2838.06" font-size="49.44" textLength="83.37" lengthAdjust="spacingAndGlyphs" font-weight="normal" fill="#1c1a1b" stroke="#1c1a1b" stroke-width="1.1">180</text>
<text x="898.43" y="2838.06" font-size="49.44" textLength="83.95" lengthAdjust="spacingAndGlyphs" font-weight="normal" fill="#1c1a1b" stroke="#1c1a1b" stroke-width="1.1">240</text>
<text x="1079.59" y="2838.06" font-size="49.44" textLength="81.75" lengthAdjust="spacingAndGlyphs" font-weight="normal" fill="#1c1a1b" stroke="#1c1a1b" stroke-width="1.1">300</text>
<text x="1260.16" y="2838.06" font-size="49.44" textLength="83.01" lengthAdjust="spacingAndGlyphs" font-weight="normal" fill="#1c1a1b" stroke="#1c1a1b" stroke-width="1.1">360</text>
<text x="1440.95" y="2838.06" font-size="49.44" textLength="83.32" lengthAdjust="spacingAndGlyphs" font-weight="normal" fill="#1c1a1b" stroke="#1c1a1b" stroke-width="1.1">420</text>
<text x="1620.64" y="2838.06" font-size="49.44" textLength="84.15" lengthAdjust="spacingAndGlyphs" font-weight="normal" fill="#1c1a1b" stroke="#1c1a1b" stroke-width="1.1">480</text>
<text x="1799.44" y="2838.06" font-size="49.44" textLength="83.64" lengthAdjust="spacingAndGlyphs" font-weight="normal" fill="#1c1a1b" stroke="#1c1a1b" stroke-width="1.1">560</text>
<text x="1885.84" y="332.26" font-size="83.66" textLength="93.63" lengthAdjust="spacingAndGlyphs" font-weight="bold" fill="#1c1a1b" stroke="#1c1a1b" stroke-width="0.6">40</text>
<text transform="translate(103.9,974.15) rotate(-90)" x="0" y="0" font-size="50.7" textLength="458.01" lengthAdjust="spacingAndGlyphs" font-weight="normal" fill="#1c1a1b" stroke="#1c1a1b" stroke-width="1.1">Prevalenza H (metri)</text>
<text transform="translate(112.77,2028.8) rotate(-90)" x="0" y="0" font-size="50.37" textLength="702.59" lengthAdjust="spacingAndGlyphs" font-weight="normal" fill="#1c1a1b" stroke="#1c1a1b" stroke-width="1.1">Potenza ingresso Pompa P2 (Kw)</text>
<text transform="translate(112.84,2675.85) rotate(-90)" x="0" y="0" font-size="50.05" textLength="297.03" lengthAdjust="spacingAndGlyphs" font-weight="normal" fill="#1c1a1b" stroke="#1c1a1b" stroke-width="1.1">NPSH (metri)</text>
<text transform="translate(2177.53,770.44) rotate(-90)" x="0" y="0" font-size="50.59" textLength="182.78" lengthAdjust="spacingAndGlyphs" font-weight="normal" fill="#1c1a1b" stroke="#1c1a1b" stroke-width="1.1">H (Feet)</text>
<text transform="translate(2179.47,1733.5) rotate(-90)" x="0" y="0" font-size="52.3" textLength="174.36" lengthAdjust="spacingAndGlyphs" font-weight="normal" fill="#1c1a1b" stroke="#1c1a1b" stroke-width="1.1">P2 (Hp)</text>
<text transform="translate(2182.04,2647.05) rotate(-90)" x="0" y="0" font-size="43.85" textLength="286.27" lengthAdjust="spacingAndGlyphs" font-weight="normal" fill="#1c1a1b" stroke="#1c1a1b" stroke-width="1.1">NPSH (Feet)</text>
<text x="545" y="3087.5" font-size="62" fill="#858585">©</text>
<text x="613" y="3087.5" font-size="62" fill="#858585">Samuel</text>
<text x="845" y="3087.5" font-size="62" fill="#858585">San</text>
<text x="957" y="3087.5" font-size="62" fill="#858585">Ant</text>
<text x="1058" y="3087.5" font-size="62" fill="#858585">Castelnuovo</text>
<text x="1404" y="3087.5" font-size="62" fill="#858585">di</text>
<text x="1458" y="3087.5" font-size="62" fill="#858585">Sotto</text>
<text x="1630" y="3087.5" font-size="62" fill="#858585">(Reggio</text>
<text x="1859" y="3087.5" font-size="62" fill="#858585">Emilia),</text>
<text x="2079" y="3087.5" font-size="62" fill="#858585">2024</text>
</svg></body></html>
